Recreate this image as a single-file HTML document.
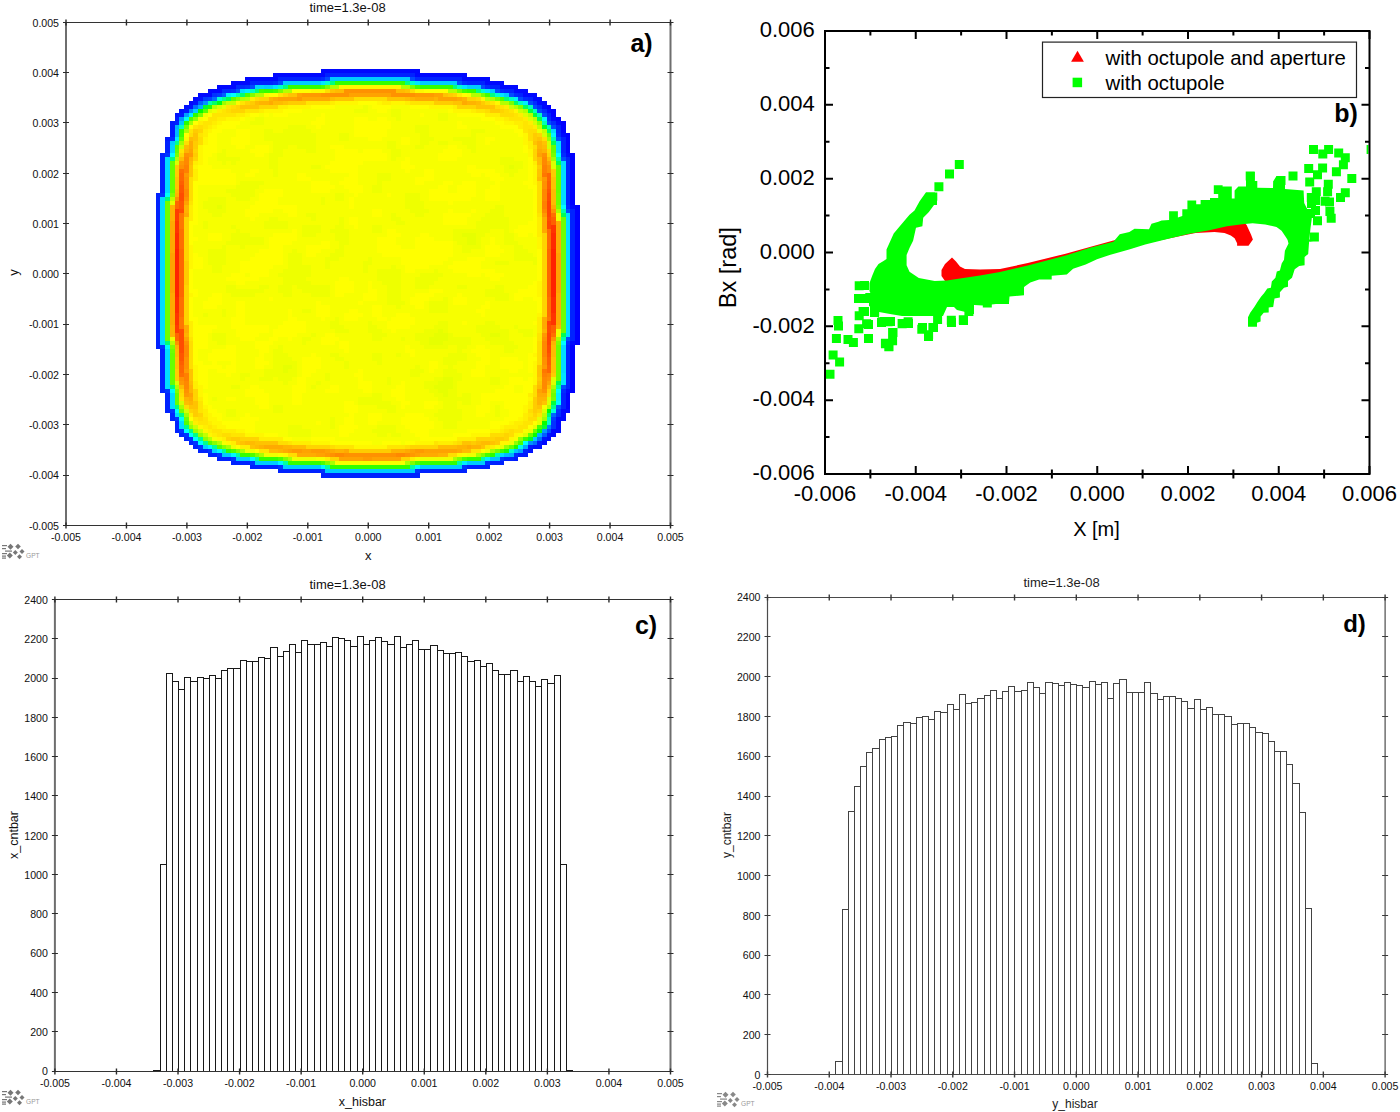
<!DOCTYPE html><html><head><meta charset="utf-8"><style>html,body{margin:0;padding:0;background:#fff}svg{display:block}</style></head><body><svg width="1400" height="1112" viewBox="0 0 1400 1112" font-family="'Liberation Sans', sans-serif">
<rect width="1400" height="1112" fill="#fff"/>
<g shape-rendering="crispEdges"><path fill="#0008ff" d="M321 69h99v4h-99zM273 73h52v4h-52zM415 73h52v4h-52zM245 77h33v4h-33zM462 77h28v4h-28zM231 81h19v4h-19zM485 81h19v4h-19zM217 85h19v4h-19zM500 85h18v4h-18zM208 89h14v4h-14zM514 89h14v4h-14zM198 93h14v4h-14zM523 93h14v4h-14zM193 97h5v4h-5zM533 97h9v4h-9zM189 101h4v4h-4zM537 101h10v4h-10zM542 105h5v4h-5zM547 109h4v4h-4zM551 117h5v4h-5zM556 121h5v4h-5zM561 133h5v4h-5zM566 153h4v4h-4zM570 205h5v4h-5zM570 341h5v4h-5zM566 389h4v4h-4zM561 409h9v4h-9zM561 413h5v4h-5zM556 417h10v4h-10zM556 421h5v4h-5zM556 425h5v4h-5zM551 429h10v4h-10zM551 433h5v4h-5zM547 437h4v4h-4zM542 441h5v4h-5z"/><path fill="#0022ff" d="M325 73h90v4h-90zM278 77h43v4h-43zM420 77h42v4h-42zM250 81h23v4h-23zM467 81h18v4h-18zM490 85h10v4h-10zM504 89h10v4h-10zM518 93h5v4h-5zM528 97h5v4h-5zM547 113h4v4h-4zM175 121h4v4h-4zM556 125h5v4h-5zM556 129h5v4h-5zM561 137h5v4h-5zM165 141h5v4h-5zM561 141h5v4h-5zM165 145h5v4h-5zM561 145h5v4h-5zM165 149h5v4h-5zM561 149h5v4h-5zM160 153h5v4h-5zM160 157h5v4h-5zM566 157h4v4h-4zM160 161h5v4h-5zM566 161h4v4h-4zM160 165h5v4h-5zM566 165h4v4h-4zM160 169h5v4h-5zM566 169h4v4h-4zM160 173h5v4h-5zM566 173h4v4h-4zM160 177h5v4h-5zM566 177h4v4h-4zM160 181h5v4h-5zM566 181h4v4h-4zM160 185h5v4h-5zM566 185h4v4h-4zM160 189h5v4h-5zM566 189h4v4h-4zM156 193h4v4h-4zM566 193h4v4h-4zM156 197h4v4h-4zM566 197h4v4h-4zM156 201h4v4h-4zM566 201h4v4h-4zM156 205h4v4h-4zM156 209h4v4h-4zM570 209h5v4h-5zM156 213h4v4h-4zM570 213h5v4h-5zM156 217h4v4h-4zM570 217h5v4h-5zM156 221h4v4h-4zM570 221h5v4h-5zM156 225h4v4h-4zM570 225h5v4h-5zM156 229h4v4h-4zM570 229h5v4h-5zM156 233h4v4h-4zM570 233h5v4h-5zM156 237h4v4h-4zM570 237h5v4h-5zM156 241h4v4h-4zM570 241h5v4h-5zM156 245h4v4h-4zM570 245h5v4h-5zM156 249h4v4h-4zM570 249h5v4h-5zM156 253h4v4h-4zM570 253h5v4h-5zM156 257h4v4h-4zM570 257h5v4h-5zM156 261h4v4h-4zM570 261h5v4h-5zM156 265h4v4h-4zM570 265h5v4h-5zM156 269h4v4h-4zM570 269h5v4h-5zM156 273h4v4h-4zM570 273h5v4h-5zM156 277h4v4h-4zM570 277h5v4h-5zM156 281h4v4h-4zM570 281h5v4h-5zM156 285h4v4h-4zM570 285h5v4h-5zM156 289h4v4h-4zM570 289h5v4h-5zM156 293h4v4h-4zM570 293h5v4h-5zM156 297h4v4h-4zM570 297h5v4h-5zM156 301h4v4h-4zM570 301h5v4h-5zM156 305h4v4h-4zM570 305h5v4h-5zM156 309h4v4h-4zM570 309h5v4h-5zM156 313h4v4h-4zM570 313h5v4h-5zM156 317h4v4h-4zM570 317h5v4h-5zM156 321h4v4h-4zM570 321h5v4h-5zM156 325h4v4h-4zM570 325h5v4h-5zM156 329h4v4h-4zM570 329h5v4h-5zM156 333h4v4h-4zM570 333h5v4h-5zM156 337h4v4h-4zM570 337h5v4h-5zM156 341h4v4h-4zM156 345h4v4h-4zM566 345h4v4h-4zM160 349h5v4h-5zM566 349h4v4h-4zM160 353h5v4h-5zM566 353h4v4h-4zM160 357h5v4h-5zM566 357h4v4h-4zM160 361h5v4h-5zM566 361h4v4h-4zM160 365h5v4h-5zM566 365h4v4h-4zM160 369h5v4h-5zM566 369h4v4h-4zM160 373h5v4h-5zM566 373h4v4h-4zM160 377h5v4h-5zM566 377h4v4h-4zM160 381h5v4h-5zM566 381h4v4h-4zM160 385h5v4h-5zM566 385h4v4h-4zM160 389h5v4h-5zM165 393h5v4h-5zM561 393h5v4h-5zM165 397h5v4h-5zM561 397h5v4h-5zM165 401h5v4h-5zM561 401h5v4h-5zM165 405h5v4h-5zM561 405h5v4h-5zM165 409h5v4h-5zM170 413h5v4h-5zM170 417h5v4h-5zM175 421h4v4h-4zM175 425h4v4h-4zM175 429h4v4h-4zM179 433h5v4h-5zM184 437h5v4h-5zM189 441h4v4h-4zM193 445h5v4h-5zM198 449h10v4h-10zM523 449h5v4h-5zM208 453h9v4h-9zM217 457h14v4h-14zM504 457h10v4h-10zM231 461h19v4h-19zM490 461h14v4h-14zM250 465h28v4h-28zM467 465h23v4h-23zM278 469h43v4h-43zM420 469h47v4h-47zM321 473h99v5h-99z"/><path fill="#002bff" d="M321 77h4v4h-4zM415 77h5v4h-5zM273 81h5v4h-5zM462 81h5v4h-5zM236 85h9v4h-9zM485 85h5v4h-5zM222 89h9v4h-9zM500 89h4v4h-4zM514 93h4v4h-4zM523 97h5v4h-5zM533 101h4v4h-4zM537 105h5v4h-5zM542 109h5v4h-5zM547 117h4v4h-4zM551 121h5v4h-5zM556 133h5v4h-5zM170 137h5v4h-5zM561 153h5v4h-5zM566 205h4v4h-4zM566 341h4v4h-4zM561 389h5v4h-5zM556 413h5v4h-5zM514 453h4v4h-4z"/><path fill="#004cff" d="M325 77h5v4h-5zM410 77h5v4h-5zM278 81h5v4h-5zM457 81h5v4h-5zM250 85h5v4h-5zM481 85h4v4h-4zM495 89h5v4h-5zM509 93h5v4h-5zM518 97h5v4h-5zM528 101h5v4h-5zM533 105h4v4h-4zM537 109h5v4h-5zM542 113h5v4h-5zM547 121h4v4h-4zM551 125h5v4h-5zM556 137h5v4h-5zM561 157h5v4h-5zM566 209h4v4h-4zM566 337h4v4h-4zM561 385h5v4h-5zM547 429h4v4h-4z"/><path fill="#00ccff" d="M330 77h80v4h-80zM283 81h38v4h-38zM420 81h37v4h-37zM264 85h9v4h-9zM467 85h14v4h-14zM490 89h5v4h-5zM504 93h5v4h-5zM193 109h5v4h-5zM170 141h5v4h-5zM533 437h4v4h-4zM222 453h9v4h-9zM236 457h14v4h-14zM255 461h23v4h-23zM467 461h18v4h-18zM283 465h38v4h-38zM420 465h42v4h-42zM325 469h90v4h-90z"/><path fill="#00e5ff" d="M321 81h4v4h-4zM415 81h5v4h-5zM273 85h5v4h-5zM462 85h5v4h-5zM485 89h5v4h-5zM500 93h4v4h-4zM561 373h5v4h-5zM561 377h5v4h-5zM561 381h5v4h-5z"/><path fill="#00ffcc" d="M325 81h5v4h-5zM410 81h5v4h-5zM278 85h5v4h-5zM457 85h5v4h-5zM481 89h4v4h-4zM495 93h5v4h-5zM547 421h4v4h-4zM509 449h5v4h-5z"/><path fill="#00ff80" d="M330 81h5v4h-5zM405 81h5v4h-5zM283 85h5v4h-5zM453 85h4v4h-4zM476 89h5v4h-5zM490 93h5v4h-5zM170 157h5v4h-5zM175 405h4v4h-4zM179 413h5v4h-5z"/><path fill="#33ff00" d="M335 81h70v4h-70zM288 85h33v4h-33zM420 85h33v4h-33zM264 89h9v4h-9zM467 89h9v4h-9zM179 129h5v4h-5zM226 449h5v4h-5zM240 453h10v4h-10zM259 457h19v4h-19zM467 457h14v4h-14zM288 461h33v4h-33zM420 461h37v4h-37zM330 465h80v4h-80z"/><path fill="#0033ff" d="M245 85h5v4h-5zM231 89h5v4h-5zM212 93h5v4h-5zM165 153h5v4h-5zM160 193h5v4h-5zM160 345h5v4h-5zM165 389h5v4h-5zM170 409h5v4h-5zM556 409h5v4h-5zM175 417h4v4h-4zM551 421h5v4h-5zM551 425h5v4h-5zM179 429h5v4h-5zM184 433h5v4h-5zM189 437h4v4h-4zM193 441h5v4h-5zM198 445h5v4h-5zM208 449h4v4h-4zM217 453h5v4h-5zM231 457h5v4h-5zM500 457h4v4h-4zM250 461h5v4h-5zM485 461h5v4h-5zM278 465h5v4h-5zM462 465h5v4h-5zM321 469h4v4h-4zM415 469h5v4h-5z"/><path fill="#00d4ff" d="M255 85h9v4h-9zM170 145h5v4h-5zM170 149h5v4h-5zM203 445h5v4h-5zM212 449h5v4h-5z"/><path fill="#44ff00" d="M321 85h4v4h-4zM415 85h5v4h-5zM273 89h5v4h-5zM462 89h5v4h-5zM485 93h5v4h-5zM485 453h5v4h-5z"/><path fill="#77ff00" d="M325 85h5v4h-5zM410 85h5v4h-5zM278 89h5v4h-5zM457 89h5v4h-5zM481 93h4v4h-4zM495 97h5v4h-5zM509 101h5v4h-5zM198 113h5v4h-5zM184 125h5v4h-5zM175 153h4v4h-4zM551 153h5v4h-5zM551 397h5v4h-5zM179 409h5v4h-5zM495 449h5v4h-5z"/><path fill="#b3ff00" d="M330 85h9v4h-9zM401 85h9v4h-9zM283 89h9v4h-9zM448 89h9v4h-9zM255 93h9v4h-9zM471 93h10v4h-10zM240 97h5v4h-5zM500 101h9v4h-9zM212 105h5v4h-5zM514 105h4v4h-4zM523 109h5v4h-5zM175 157h4v4h-4zM175 385h4v4h-4zM547 405h4v4h-4zM217 441h5v4h-5z"/><path fill="#fff700" d="M339 85h62v4h-62zM311 89h14v4h-14zM415 89h9v4h-9zM481 97h4v4h-4zM236 101h4v4h-4zM335 101h23v4h-23zM377 101h5v4h-5zM391 101h14v4h-14zM495 101h5v4h-5zM288 105h23v4h-23zM429 105h24v4h-24zM264 109h19v4h-19zM453 109h18v4h-18zM514 109h4v4h-4zM245 113h5v4h-5zM226 117h14v4h-14zM495 117h9v4h-9zM217 121h5v4h-5zM504 121h10v4h-10zM212 125h5v4h-5zM208 129h4v4h-4zM523 133h5v4h-5zM184 137h5v4h-5zM203 137h5v4h-5zM523 137h5v4h-5zM203 141h5v4h-5zM523 141h5v4h-5zM198 145h5v4h-5zM198 149h5v4h-5zM528 149h5v4h-5zM198 153h5v4h-5zM528 153h5v4h-5zM198 157h5v4h-5zM198 161h5v4h-5zM193 165h5v4h-5zM533 165h4v4h-4zM533 169h4v4h-4zM533 173h4v4h-4zM533 177h4v4h-4zM533 181h4v4h-4zM537 237h5v4h-5zM537 241h5v4h-5zM189 245h4v4h-4zM537 245h5v4h-5zM189 249h4v4h-4zM189 253h4v4h-4zM189 257h4v4h-4zM189 261h4v4h-4zM189 265h4v4h-4zM537 281h5v4h-5zM537 285h5v4h-5zM537 289h5v4h-5zM189 293h4v4h-4zM537 293h5v4h-5zM537 313h5v4h-5zM533 353h4v4h-4zM533 361h4v4h-4zM193 365h5v4h-5zM533 365h4v4h-4zM193 369h5v4h-5zM533 369h4v4h-4zM193 373h5v4h-5zM533 373h4v4h-4zM193 377h5v4h-5zM533 377h4v4h-4zM533 381h4v4h-4zM198 385h5v4h-5zM198 389h5v4h-5zM198 393h5v4h-5zM528 397h5v4h-5zM203 405h5v4h-5zM523 405h5v4h-5zM523 409h5v4h-5zM208 413h4v4h-4zM208 417h9v4h-9zM518 417h5v4h-5zM212 421h10v4h-10zM509 421h5v4h-5zM198 425h5v4h-5zM217 425h9v4h-9zM500 425h4v4h-4zM203 429h5v4h-5zM236 429h9v4h-9zM490 429h10v4h-10zM208 433h4v4h-4zM245 433h19v4h-19zM471 433h19v4h-19zM514 433h4v4h-4zM217 437h5v4h-5zM509 437h5v4h-5zM226 441h5v4h-5zM311 441h19v4h-19zM415 441h19v4h-19zM500 441h9v4h-9zM354 445h33v4h-33zM283 453h5v4h-5zM457 453h5v4h-5z"/><path fill="#0055ff" d="M236 89h4v4h-4zM556 405h5v4h-5z"/><path fill="#00ddff" d="M240 89h5v4h-5zM551 129h5v4h-5zM556 141h5v4h-5zM556 145h5v4h-5zM556 149h5v4h-5zM165 157h5v4h-5zM165 161h5v4h-5zM561 161h5v4h-5zM165 165h5v4h-5zM561 165h5v4h-5zM165 169h5v4h-5zM561 169h5v4h-5zM165 173h5v4h-5zM561 173h5v4h-5zM165 177h5v4h-5zM561 177h5v4h-5zM165 181h5v4h-5zM561 181h5v4h-5zM165 185h5v4h-5zM561 185h5v4h-5zM165 189h5v4h-5zM561 189h5v4h-5zM561 193h5v4h-5zM160 197h5v4h-5zM561 197h5v4h-5zM160 201h5v4h-5zM561 201h5v4h-5zM160 205h5v4h-5zM160 209h5v4h-5zM160 213h5v4h-5zM566 213h4v4h-4zM160 217h5v4h-5zM566 217h4v4h-4zM160 221h5v4h-5zM566 221h4v4h-4zM160 225h5v4h-5zM566 225h4v4h-4zM160 229h5v4h-5zM566 229h4v4h-4zM160 233h5v4h-5zM566 233h4v4h-4zM160 237h5v4h-5zM566 237h4v4h-4zM160 241h5v4h-5zM566 241h4v4h-4zM160 245h5v4h-5zM566 245h4v4h-4zM160 249h5v4h-5zM566 249h4v4h-4zM160 253h5v4h-5zM566 253h4v4h-4zM160 257h5v4h-5zM566 257h4v4h-4zM160 261h5v4h-5zM566 261h4v4h-4zM160 265h5v4h-5zM566 265h4v4h-4zM160 269h5v4h-5zM566 269h4v4h-4zM160 273h5v4h-5zM566 273h4v4h-4zM160 277h5v4h-5zM566 277h4v4h-4zM160 281h5v4h-5zM566 281h4v4h-4zM160 285h5v4h-5zM566 285h4v4h-4zM160 289h5v4h-5zM566 289h4v4h-4zM160 293h5v4h-5zM566 293h4v4h-4zM160 297h5v4h-5zM566 297h4v4h-4zM160 301h5v4h-5zM566 301h4v4h-4zM160 305h5v4h-5zM566 305h4v4h-4zM160 309h5v4h-5zM566 309h4v4h-4zM160 313h5v4h-5zM566 313h4v4h-4zM160 317h5v4h-5zM566 317h4v4h-4zM160 321h5v4h-5zM566 321h4v4h-4zM160 325h5v4h-5zM566 325h4v4h-4zM160 329h5v4h-5zM566 329h4v4h-4zM160 333h5v4h-5zM566 333h4v4h-4zM160 337h5v4h-5zM160 341h5v4h-5zM561 345h5v4h-5zM165 349h5v4h-5zM561 349h5v4h-5zM165 353h5v4h-5zM561 353h5v4h-5zM165 357h5v4h-5zM561 357h5v4h-5zM165 361h5v4h-5zM561 361h5v4h-5zM165 365h5v4h-5zM561 365h5v4h-5zM165 369h5v4h-5zM561 369h5v4h-5zM165 373h5v4h-5zM165 377h5v4h-5zM165 381h5v4h-5zM165 385h5v4h-5zM170 393h5v4h-5zM170 397h5v4h-5zM170 401h5v4h-5zM170 405h5v4h-5zM175 413h4v4h-4zM179 421h5v4h-5zM179 425h5v4h-5zM500 453h4v4h-4z"/><path fill="#00eeff" d="M245 89h5v4h-5zM226 93h5v4h-5zM514 97h4v4h-4zM523 101h5v4h-5zM189 113h4v4h-4zM175 137h4v4h-4zM556 393h5v4h-5zM556 397h5v4h-5zM485 457h5v4h-5zM462 461h5v4h-5z"/><path fill="#00ffc3" d="M250 89h5v4h-5zM509 97h5v4h-5zM518 101h5v4h-5zM179 125h5v4h-5z"/><path fill="#00ff77" d="M255 89h4v4h-4zM504 97h5v4h-5zM165 197h5v4h-5zM165 341h5v4h-5zM170 385h5v4h-5z"/><path fill="#3cff00" d="M259 89h5v4h-5zM179 133h5v4h-5zM523 437h5v4h-5zM500 449h4v4h-4z"/><path fill="#ffff00" d="M292 89h19v4h-19zM424 89h24v4h-24zM269 93h9v4h-9zM462 93h5v4h-5zM358 101h19v4h-19zM311 105h24v4h-24zM372 105h19v4h-19zM410 105h19v4h-19zM283 109h19v4h-19zM377 109h10v4h-10zM448 109h5v4h-5zM208 113h4v4h-4zM250 113h9v4h-9zM264 113h5v4h-5zM273 113h15v4h-15zM321 113h4v4h-4zM420 113h4v4h-4zM457 113h28v4h-28zM203 117h5v4h-5zM240 117h5v4h-5zM316 117h9v4h-9zM354 117h14v4h-14zM377 117h10v4h-10zM481 117h14v4h-14zM193 121h5v4h-5zM222 121h18v4h-18zM311 121h14v4h-14zM354 121h37v4h-37zM457 121h5v4h-5zM495 121h9v4h-9zM189 125h4v4h-4zM217 125h19v4h-19zM316 125h5v4h-5zM354 125h37v4h-37zM457 125h10v4h-10zM500 125h18v4h-18zM212 129h10v4h-10zM236 129h14v4h-14zM354 129h33v4h-33zM514 129h9v4h-9zM184 133h5v4h-5zM208 133h9v4h-9zM236 133h14v4h-14zM354 133h33v4h-33zM518 133h5v4h-5zM208 137h9v4h-9zM231 137h19v4h-19zM368 137h14v4h-14zM401 137h9v4h-9zM485 137h10v4h-10zM208 141h9v4h-9zM231 141h19v4h-19zM401 141h9v4h-9zM485 141h5v4h-5zM203 145h14v4h-14zM236 145h9v4h-9zM255 145h14v4h-14zM330 145h14v4h-14zM448 145h9v4h-9zM523 145h5v4h-5zM203 149h14v4h-14zM250 149h19v4h-19zM335 149h23v4h-23zM363 149h19v4h-19zM443 149h19v4h-19zM523 149h5v4h-5zM203 153h9v4h-9zM255 153h9v4h-9zM335 153h52v4h-52zM438 153h24v4h-24zM203 157h5v4h-5zM335 157h52v4h-52zM405 157h5v4h-5zM438 157h19v4h-19zM528 157h5v4h-5zM203 161h5v4h-5zM330 161h33v4h-33zM401 161h9v4h-9zM528 161h5v4h-5zM198 165h14v4h-14zM325 165h33v4h-33zM401 165h14v4h-14zM467 165h9v4h-9zM528 165h5v4h-5zM198 169h33v4h-33zM250 169h9v4h-9zM330 169h28v4h-28zM405 169h5v4h-5zM424 169h10v4h-10zM467 169h28v4h-28zM528 169h5v4h-5zM198 173h38v4h-38zM245 173h10v4h-10zM297 173h9v4h-9zM349 173h9v4h-9zM424 173h10v4h-10zM471 173h10v4h-10zM485 173h15v4h-15zM528 173h5v4h-5zM198 177h38v4h-38zM297 177h14v4h-14zM344 177h14v4h-14zM415 177h19v4h-19zM490 177h14v4h-14zM528 177h5v4h-5zM193 181h43v4h-43zM311 181h19v4h-19zM339 181h19v4h-19zM415 181h9v4h-9zM443 181h10v4h-10zM462 181h14v4h-14zM495 181h5v4h-5zM523 181h10v4h-10zM193 185h5v4h-5zM311 185h24v4h-24zM344 185h19v4h-19zM438 185h10v4h-10zM457 185h19v4h-19zM490 185h10v4h-10zM528 185h9v4h-9zM193 189h5v4h-5zM264 189h19v4h-19zM311 189h19v4h-19zM349 189h14v4h-14zM429 189h19v4h-19zM457 189h19v4h-19zM485 189h15v4h-15zM533 189h4v4h-4zM193 193h5v4h-5zM259 193h24v4h-24zM354 193h4v4h-4zM387 193h4v4h-4zM429 193h47v4h-47zM485 193h15v4h-15zM533 193h4v4h-4zM193 197h5v4h-5zM259 197h19v4h-19zM349 197h5v4h-5zM429 197h42v4h-42zM485 197h15v4h-15zM533 197h4v4h-4zM193 201h5v4h-5zM255 201h23v4h-23zM349 201h5v4h-5zM448 201h5v4h-5zM533 201h4v4h-4zM193 205h5v4h-5zM250 205h47v4h-47zM349 205h5v4h-5zM533 205h4v4h-4zM193 209h5v4h-5zM245 209h28v4h-28zM283 209h14v4h-14zM372 209h10v4h-10zM448 209h5v4h-5zM471 209h5v4h-5zM533 209h4v4h-4zM193 213h5v4h-5zM245 213h14v4h-14zM288 213h9v4h-9zM372 213h10v4h-10zM443 213h28v4h-28zM533 213h4v4h-4zM193 217h5v4h-5zM250 217h5v4h-5zM349 217h9v4h-9zM443 217h24v4h-24zM533 217h4v4h-4zM189 221h9v4h-9zM349 221h9v4h-9zM443 221h24v4h-24zM528 221h9v4h-9zM189 225h4v4h-4zM354 225h4v4h-4zM518 225h19v4h-19zM189 229h4v4h-4zM292 229h5v4h-5zM387 229h9v4h-9zM514 229h23v4h-23zM189 233h4v4h-4zM208 233h14v4h-14zM273 233h24v4h-24zM387 233h14v4h-14zM420 233h9v4h-9zM518 233h10v4h-10zM533 233h4v4h-4zM189 237h9v4h-9zM208 237h14v4h-14zM269 237h28v4h-28zM377 237h19v4h-19zM415 237h19v4h-19zM490 237h5v4h-5zM189 241h4v4h-4zM269 241h23v4h-23zM321 241h9v4h-9zM377 241h19v4h-19zM415 241h38v4h-38zM490 241h5v4h-5zM269 245h14v4h-14zM306 245h24v4h-24zM377 245h24v4h-24zM415 245h38v4h-38zM485 245h15v4h-15zM259 249h24v4h-24zM306 249h15v4h-15zM377 249h76v4h-76zM485 249h19v4h-19zM537 249h5v4h-5zM193 253h5v4h-5zM255 253h28v4h-28zM306 253h10v4h-10zM382 253h71v4h-71zM485 253h15v4h-15zM537 253h5v4h-5zM193 257h10v4h-10zM250 257h33v4h-33zM401 257h47v4h-47zM467 257h18v4h-18zM537 257h5v4h-5zM193 261h10v4h-10zM240 261h43v4h-43zM401 261h42v4h-42zM453 261h28v4h-28zM537 261h5v4h-5zM193 265h10v4h-10zM240 265h33v4h-33zM405 265h24v4h-24zM448 265h33v4h-33zM537 265h5v4h-5zM189 269h4v4h-4zM240 269h29v4h-29zM405 269h10v4h-10zM453 269h42v4h-42zM537 269h5v4h-5zM189 273h4v4h-4zM231 273h14v4h-14zM250 273h19v4h-19zM467 273h14v4h-14zM485 273h19v4h-19zM537 273h5v4h-5zM189 277h4v4h-4zM226 277h33v4h-33zM339 277h10v4h-10zM490 277h10v4h-10zM537 277h5v4h-5zM189 281h4v4h-4zM236 281h9v4h-9zM335 281h19v4h-19zM368 281h4v4h-4zM533 281h4v4h-4zM189 285h4v4h-4zM335 285h19v4h-19zM368 285h4v4h-4zM528 285h9v4h-9zM189 289h9v4h-9zM335 289h19v4h-19zM368 289h9v4h-9zM429 289h14v4h-14zM518 289h19v4h-19zM193 293h5v4h-5zM212 293h10v4h-10zM335 293h9v4h-9zM363 293h14v4h-14zM415 293h19v4h-19zM457 293h5v4h-5zM514 293h23v4h-23zM189 297h4v4h-4zM208 297h14v4h-14zM269 297h4v4h-4zM363 297h14v4h-14zM410 297h19v4h-19zM453 297h14v4h-14zM514 297h9v4h-9zM533 297h9v4h-9zM189 301h4v4h-4zM203 301h19v4h-19zM236 301h9v4h-9zM316 301h5v4h-5zM358 301h5v4h-5zM410 301h14v4h-14zM453 301h14v4h-14zM485 301h5v4h-5zM537 301h5v4h-5zM189 305h4v4h-4zM203 305h14v4h-14zM236 305h9v4h-9zM316 305h14v4h-14zM372 305h10v4h-10zM415 305h9v4h-9zM481 305h9v4h-9zM537 305h5v4h-5zM189 309h4v4h-4zM236 309h9v4h-9zM288 309h4v4h-4zM316 309h14v4h-14zM349 309h9v4h-9zM372 309h10v4h-10zM476 309h9v4h-9zM537 309h5v4h-5zM189 313h4v4h-4zM236 313h9v4h-9zM288 313h4v4h-4zM316 313h14v4h-14zM344 313h19v4h-19zM372 313h10v4h-10zM396 313h14v4h-14zM481 313h4v4h-4zM189 317h9v4h-9zM231 317h14v4h-14zM288 317h9v4h-9zM321 317h4v4h-4zM344 317h14v4h-14zM377 317h10v4h-10zM391 317h24v4h-24zM193 321h5v4h-5zM231 321h14v4h-14zM283 321h23v4h-23zM387 321h28v4h-28zM462 321h5v4h-5zM533 321h4v4h-4zM193 325h24v4h-24zM231 325h38v4h-38zM278 325h28v4h-28zM387 325h23v4h-23zM193 329h19v4h-19zM236 329h33v4h-33zM273 329h33v4h-33zM391 329h5v4h-5zM193 333h15v4h-15zM236 333h23v4h-23zM273 333h24v4h-24zM325 333h10v4h-10zM193 337h15v4h-15zM240 337h15v4h-15zM269 337h9v4h-9zM288 337h4v4h-4zM321 337h18v4h-18zM533 337h4v4h-4zM193 341h15v4h-15zM255 341h18v4h-18zM321 341h14v4h-14zM339 341h10v4h-10zM533 341h4v4h-4zM193 345h15v4h-15zM226 345h10v4h-10zM255 345h14v4h-14zM339 345h10v4h-10zM405 345h5v4h-5zM476 345h9v4h-9zM533 345h4v4h-4zM193 349h5v4h-5zM212 349h24v4h-24zM259 349h10v4h-10zM344 349h5v4h-5zM405 349h10v4h-10zM471 349h19v4h-19zM533 349h4v4h-4zM193 353h5v4h-5zM208 353h28v4h-28zM259 353h5v4h-5zM311 353h5v4h-5zM410 353h5v4h-5zM476 353h14v4h-14zM528 353h5v4h-5zM193 357h5v4h-5zM208 357h28v4h-28zM255 357h9v4h-9zM302 357h19v4h-19zM481 357h9v4h-9zM500 357h18v4h-18zM528 357h9v4h-9zM193 361h10v4h-10zM212 361h5v4h-5zM231 361h5v4h-5zM255 361h14v4h-14zM302 361h19v4h-19zM429 361h9v4h-9zM476 361h14v4h-14zM500 361h23v4h-23zM528 361h5v4h-5zM198 365h24v4h-24zM226 365h10v4h-10zM255 365h9v4h-9zM302 365h19v4h-19zM429 365h9v4h-9zM476 365h9v4h-9zM500 365h23v4h-23zM528 365h5v4h-5zM198 369h10v4h-10zM217 369h19v4h-19zM302 369h14v4h-14zM358 369h5v4h-5zM429 369h5v4h-5zM471 369h14v4h-14zM509 369h9v4h-9zM528 369h5v4h-5zM198 373h10v4h-10zM226 373h5v4h-5zM302 373h9v4h-9zM354 373h9v4h-9zM471 373h14v4h-14zM198 377h10v4h-10zM297 377h9v4h-9zM358 377h5v4h-5zM509 377h14v4h-14zM528 377h5v4h-5zM198 381h10v4h-10zM297 381h9v4h-9zM358 381h14v4h-14zM401 381h4v4h-4zM509 381h24v4h-24zM203 385h5v4h-5zM250 385h9v4h-9zM292 385h14v4h-14zM330 385h9v4h-9zM358 385h14v4h-14zM396 385h9v4h-9zM504 385h10v4h-10zM523 385h10v4h-10zM245 389h19v4h-19zM292 389h14v4h-14zM325 389h14v4h-14zM363 389h9v4h-9zM391 389h14v4h-14zM495 389h19v4h-19zM523 389h10v4h-10zM203 393h5v4h-5zM245 393h24v4h-24zM292 393h10v4h-10zM391 393h14v4h-14zM481 393h47v4h-47zM203 397h5v4h-5zM226 397h10v4h-10zM255 397h14v4h-14zM292 397h10v4h-10zM396 397h9v4h-9zM481 397h47v4h-47zM203 401h5v4h-5zM255 401h14v4h-14zM292 401h10v4h-10zM344 401h10v4h-10zM401 401h9v4h-9zM424 401h14v4h-14zM481 401h9v4h-9zM504 401h24v4h-24zM208 405h4v4h-4zM259 405h10v4h-10zM344 405h14v4h-14zM401 405h4v4h-4zM424 405h10v4h-10zM476 405h14v4h-14zM504 405h19v4h-19zM208 409h9v4h-9zM344 409h14v4h-14zM476 409h14v4h-14zM509 409h14v4h-14zM212 413h10v4h-10zM245 413h5v4h-5zM349 413h5v4h-5zM368 413h14v4h-14zM405 413h19v4h-19zM476 413h9v4h-9zM509 413h14v4h-14zM189 417h4v4h-4zM217 417h5v4h-5zM240 417h19v4h-19zM344 417h10v4h-10zM368 417h14v4h-14zM401 417h28v4h-28zM504 417h14v4h-14zM222 421h33v4h-33zM316 421h5v4h-5zM344 421h10v4h-10zM368 421h9v4h-9zM401 421h33v4h-33zM490 421h19v4h-19zM533 421h4v4h-4zM226 425h29v4h-29zM339 425h19v4h-19zM405 425h29v4h-29zM490 425h10v4h-10zM528 425h5v4h-5zM245 429h10v4h-10zM339 429h15v4h-15zM410 429h19v4h-19zM467 429h23v4h-23zM264 433h14v4h-14zM339 433h10v4h-10zM415 433h14v4h-14zM453 433h18v4h-18zM283 437h9v4h-9zM311 437h24v4h-24zM420 437h37v4h-37zM330 441h42v4h-42zM382 441h19v4h-19zM405 441h10v4h-10zM236 445h4v4h-4zM255 449h4v4h-4zM481 449h4v4h-4z"/><path fill="#ffdd00" d="M325 89h5v4h-5zM410 89h5v4h-5zM255 97h4v4h-4zM354 97h33v4h-33zM476 97h5v4h-5zM485 101h5v4h-5zM231 105h5v4h-5zM495 105h5v4h-5zM226 109h5v4h-5zM485 109h5v4h-5zM504 109h5v4h-5zM500 113h14v4h-14zM198 125h5v4h-5zM528 129h9v4h-9zM189 133h4v4h-4zM528 133h5v4h-5zM198 137h5v4h-5zM528 137h5v4h-5zM542 137h5v4h-5zM184 141h5v4h-5zM198 141h5v4h-5zM533 145h4v4h-4zM547 149h4v4h-4zM189 177h4v4h-4zM189 181h4v4h-4zM537 181h5v4h-5zM189 185h4v4h-4zM537 185h5v4h-5zM189 189h4v4h-4zM537 189h5v4h-5zM189 193h4v4h-4zM537 193h5v4h-5zM189 197h4v4h-4zM537 197h5v4h-5zM537 201h5v4h-5zM537 205h5v4h-5zM537 209h5v4h-5zM189 341h4v4h-4zM537 341h5v4h-5zM189 345h4v4h-4zM537 345h5v4h-5zM189 349h4v4h-4zM537 349h5v4h-5zM189 353h4v4h-4zM537 353h5v4h-5zM189 357h4v4h-4zM537 357h5v4h-5zM189 361h4v4h-4zM537 361h5v4h-5zM189 365h4v4h-4zM533 385h4v4h-4zM533 389h4v4h-4zM179 393h5v4h-5zM533 393h4v4h-4zM547 393h4v4h-4zM184 405h5v4h-5zM528 409h5v4h-5zM198 417h5v4h-5zM528 417h9v4h-9zM509 429h5v4h-5zM222 433h9v4h-9zM490 433h14v4h-14zM509 433h5v4h-5zM278 441h10v4h-10zM457 441h5v4h-5zM330 445h5v4h-5zM405 445h5v4h-5zM288 453h9v4h-9zM448 453h9v4h-9z"/><path fill="#ffc300" d="M330 89h5v4h-5zM405 89h5v4h-5zM288 93h9v4h-9zM443 93h5v4h-5zM335 97h19v4h-19zM387 97h18v4h-18zM283 101h5v4h-5zM453 101h9v4h-9zM240 105h19v4h-19zM476 105h19v4h-19zM193 133h5v4h-5zM193 137h5v4h-5zM537 137h5v4h-5zM533 141h4v4h-4zM542 141h5v4h-5zM189 165h4v4h-4zM189 169h4v4h-4zM537 169h5v4h-5zM189 173h4v4h-4zM537 173h5v4h-5zM175 177h4v4h-4zM551 177h5v4h-5zM175 181h4v4h-4zM551 181h5v4h-5zM175 185h4v4h-4zM551 185h5v4h-5zM175 357h4v4h-4zM551 357h5v4h-5zM175 361h4v4h-4zM551 361h5v4h-5zM175 365h4v4h-4zM537 365h5v4h-5zM551 365h5v4h-5zM189 369h4v4h-4zM537 369h5v4h-5zM551 369h5v4h-5zM189 373h4v4h-4zM537 373h5v4h-5zM189 377h4v4h-4zM537 381h5v4h-5zM193 401h5v4h-5zM542 401h5v4h-5zM189 405h9v4h-9zM537 405h5v4h-5zM240 441h5v4h-5zM255 441h23v4h-23zM462 441h9v4h-9zM476 441h5v4h-5zM490 441h5v4h-5zM250 445h5v4h-5zM481 445h4v4h-4z"/><path fill="#ffbb00" d="M335 89h9v4h-9zM396 89h9v4h-9zM330 97h5v4h-5zM405 97h5v4h-5zM255 101h4v4h-4zM273 101h10v4h-10zM476 101h5v4h-5zM189 137h4v4h-4zM184 145h5v4h-5zM542 145h5v4h-5zM179 157h5v4h-5zM537 157h5v4h-5zM547 157h4v4h-4zM189 161h4v4h-4zM537 161h5v4h-5zM537 177h5v4h-5zM175 189h4v4h-4zM551 189h5v4h-5zM551 193h5v4h-5zM551 197h5v4h-5zM551 201h5v4h-5zM551 345h5v4h-5zM175 349h4v4h-4zM551 349h5v4h-5zM175 353h4v4h-4zM551 353h5v4h-5zM189 381h4v4h-4zM179 385h5v4h-5zM537 385h5v4h-5zM547 385h4v4h-4zM184 401h5v4h-5zM245 441h10v4h-10zM481 441h9v4h-9zM255 445h4v4h-4zM292 445h14v4h-14zM438 445h19v4h-19zM269 449h9v4h-9zM462 449h9v4h-9z"/><path fill="#ff9100" d="M344 89h52v4h-52zM321 93h28v4h-28zM391 93h24v4h-24zM184 153h5v4h-5zM542 153h5v4h-5zM179 165h5v4h-5zM547 165h4v4h-4zM547 169h4v4h-4zM184 177h5v4h-5zM184 181h5v4h-5zM542 181h5v4h-5zM184 185h5v4h-5zM542 185h5v4h-5zM175 197h4v4h-4zM184 197h5v4h-5zM551 209h5v4h-5zM542 337h5v4h-5zM551 337h5v4h-5zM175 341h4v4h-4zM184 341h5v4h-5zM184 357h5v4h-5zM542 357h5v4h-5zM184 361h5v4h-5zM542 361h5v4h-5zM184 365h5v4h-5zM179 377h5v4h-5zM547 377h4v4h-4zM184 389h5v4h-5zM542 389h5v4h-5zM330 453h5v4h-5zM344 453h52v4h-52zM405 453h5v4h-5z"/><path fill="#003cff" d="M217 93h5v4h-5zM203 97h5v4h-5zM551 417h5v4h-5z"/><path fill="#005eff" d="M222 93h4v4h-4zM198 101h5v4h-5zM542 433h5v4h-5z"/><path fill="#00ffff" d="M231 93h5v4h-5zM170 153h5v4h-5zM556 153h5v4h-5zM561 205h5v4h-5zM561 341h5v4h-5zM184 429h5v4h-5zM189 433h4v4h-4zM193 437h5v4h-5zM198 441h5v4h-5zM523 441h5v4h-5z"/><path fill="#00ffb3" d="M236 93h4v4h-4zM542 121h5v4h-5zM547 125h4v4h-4zM495 453h5v4h-5z"/><path fill="#00ff6f" d="M240 93h5v4h-5zM547 413h4v4h-4z"/><path fill="#4cff00" d="M245 93h5v4h-5zM500 97h4v4h-4zM189 117h4v4h-4zM537 425h5v4h-5zM518 441h5v4h-5zM231 449h5v4h-5zM250 453h5v4h-5zM278 457h5v4h-5zM462 457h5v4h-5zM321 461h4v4h-4zM415 461h5v4h-5z"/><path fill="#80ff00" d="M250 93h5v4h-5zM518 105h5v4h-5zM170 193h5v4h-5zM556 205h5v4h-5zM556 341h5v4h-5zM170 345h5v4h-5zM175 389h4v4h-4zM551 389h5v4h-5zM236 449h4v4h-4zM255 453h4v4h-4zM481 453h4v4h-4zM283 457h5v4h-5zM457 457h5v4h-5zM325 461h5v4h-5zM410 461h5v4h-5z"/><path fill="#f7ff00" d="M264 93h5v4h-5zM467 93h4v4h-4zM335 105h28v4h-28zM368 105h4v4h-4zM391 105h19v4h-19zM302 109h52v4h-52zM368 109h9v4h-9zM387 109h4v4h-4zM401 109h47v4h-47zM259 113h5v4h-5zM269 113h4v4h-4zM288 113h33v4h-33zM325 113h66v4h-66zM401 113h19v4h-19zM424 113h14v4h-14zM448 113h9v4h-9zM198 117h5v4h-5zM245 117h10v4h-10zM264 117h52v4h-52zM325 117h29v4h-29zM368 117h9v4h-9zM387 117h9v4h-9zM401 117h37v4h-37zM448 117h33v4h-33zM240 121h10v4h-10zM264 121h47v4h-47zM325 121h29v4h-29zM391 121h66v4h-66zM462 121h33v4h-33zM236 125h52v4h-52zM306 125h10v4h-10zM321 125h33v4h-33zM391 125h24v4h-24zM429 125h28v4h-28zM467 125h33v4h-33zM222 129h14v4h-14zM250 129h14v4h-14zM273 129h10v4h-10zM311 129h43v4h-43zM387 129h28v4h-28zM429 129h42v4h-42zM485 129h29v4h-29zM217 133h19v4h-19zM250 133h14v4h-14zM316 133h23v4h-23zM349 133h5v4h-5zM387 133h33v4h-33zM429 133h42v4h-42zM476 133h42v4h-42zM217 137h14v4h-14zM250 137h14v4h-14zM316 137h23v4h-23zM349 137h19v4h-19zM382 137h19v4h-19zM410 137h10v4h-10zM434 137h19v4h-19zM476 137h9v4h-9zM495 137h28v4h-28zM217 141h14v4h-14zM250 141h23v4h-23zM316 141h71v4h-71zM396 141h5v4h-5zM410 141h10v4h-10zM429 141h9v4h-9zM448 141h14v4h-14zM476 141h9v4h-9zM490 141h33v4h-33zM217 145h19v4h-19zM245 145h10v4h-10zM269 145h4v4h-4zM288 145h9v4h-9zM316 145h14v4h-14zM344 145h43v4h-43zM396 145h19v4h-19zM424 145h24v4h-24zM457 145h10v4h-10zM476 145h47v4h-47zM217 149h5v4h-5zM226 149h24v4h-24zM269 149h4v4h-4zM283 149h23v4h-23zM316 149h19v4h-19zM358 149h5v4h-5zM382 149h9v4h-9zM401 149h42v4h-42zM462 149h9v4h-9zM476 149h47v4h-47zM212 153h5v4h-5zM226 153h29v4h-29zM264 153h5v4h-5zM283 153h52v4h-52zM387 153h4v4h-4zM401 153h37v4h-37zM462 153h66v4h-66zM208 157h9v4h-9zM240 157h29v4h-29zM278 157h57v4h-57zM387 157h4v4h-4zM396 157h9v4h-9zM410 157h28v4h-28zM457 157h43v4h-43zM514 157h14v4h-14zM208 161h14v4h-14zM226 161h5v4h-5zM236 161h33v4h-33zM278 161h52v4h-52zM363 161h38v4h-38zM410 161h90v4h-90zM523 161h5v4h-5zM212 165h57v4h-57zM278 165h33v4h-33zM321 165h4v4h-4zM358 165h43v4h-43zM415 165h52v4h-52zM476 165h28v4h-28zM523 165h5v4h-5zM231 169h19v4h-19zM259 169h14v4h-14zM278 169h52v4h-52zM358 169h47v4h-47zM410 169h14v4h-14zM434 169h33v4h-33zM495 169h9v4h-9zM518 169h10v4h-10zM236 173h9v4h-9zM255 173h18v4h-18zM278 173h19v4h-19zM306 173h43v4h-43zM358 173h19v4h-19zM391 173h33v4h-33zM434 173h37v4h-37zM481 173h4v4h-4zM500 173h9v4h-9zM514 173h14v4h-14zM236 177h61v4h-61zM311 177h33v4h-33zM358 177h19v4h-19zM391 177h24v4h-24zM434 177h56v4h-56zM504 177h24v4h-24zM236 181h4v4h-4zM264 181h47v4h-47zM330 181h9v4h-9zM358 181h19v4h-19zM382 181h33v4h-33zM424 181h19v4h-19zM453 181h9v4h-9zM476 181h19v4h-19zM500 181h23v4h-23zM198 185h38v4h-38zM259 185h52v4h-52zM335 185h9v4h-9zM363 185h9v4h-9zM382 185h56v4h-56zM448 185h9v4h-9zM476 185h14v4h-14zM500 185h28v4h-28zM198 189h28v4h-28zM255 189h9v4h-9zM283 189h28v4h-28zM330 189h19v4h-19zM363 189h9v4h-9zM382 189h47v4h-47zM448 189h9v4h-9zM476 189h9v4h-9zM500 189h33v4h-33zM198 193h33v4h-33zM255 193h4v4h-4zM283 193h52v4h-52zM344 193h10v4h-10zM358 193h29v4h-29zM391 193h14v4h-14zM420 193h9v4h-9zM476 193h9v4h-9zM500 193h33v4h-33zM198 197h10v4h-10zM226 197h10v4h-10zM250 197h9v4h-9zM278 197h43v4h-43zM325 197h10v4h-10zM344 197h5v4h-5zM354 197h51v4h-51zM420 197h9v4h-9zM471 197h14v4h-14zM500 197h33v4h-33zM198 201h5v4h-5zM226 201h29v4h-29zM278 201h43v4h-43zM325 201h24v4h-24zM354 201h51v4h-51zM424 201h24v4h-24zM453 201h80v4h-80zM198 205h5v4h-5zM226 205h24v4h-24zM297 205h52v4h-52zM354 205h51v4h-51zM424 205h71v4h-71zM504 205h29v4h-29zM198 209h10v4h-10zM226 209h19v4h-19zM273 209h10v4h-10zM297 209h75v4h-75zM382 209h28v4h-28zM429 209h19v4h-19zM453 209h18v4h-18zM476 209h14v4h-14zM504 209h29v4h-29zM198 213h14v4h-14zM222 213h23v4h-23zM259 213h29v4h-29zM297 213h9v4h-9zM316 213h56v4h-56zM382 213h9v4h-9zM396 213h19v4h-19zM424 213h19v4h-19zM471 213h14v4h-14zM504 213h29v4h-29zM198 217h52v4h-52zM255 217h14v4h-14zM278 217h33v4h-33zM316 217h23v4h-23zM344 217h5v4h-5zM358 217h33v4h-33zM401 217h42v4h-42zM467 217h14v4h-14zM509 217h24v4h-24zM198 221h5v4h-5zM208 221h56v4h-56zM288 221h51v4h-51zM344 221h5v4h-5zM358 221h38v4h-38zM405 221h38v4h-38zM467 221h9v4h-9zM509 221h19v4h-19zM193 225h10v4h-10zM208 225h23v4h-23zM236 225h28v4h-28zM288 225h14v4h-14zM321 225h14v4h-14zM344 225h10v4h-10zM358 225h14v4h-14zM382 225h94v4h-94zM509 225h9v4h-9zM193 229h43v4h-43zM240 229h52v4h-52zM297 229h5v4h-5zM321 229h9v4h-9zM349 229h23v4h-23zM382 229h5v4h-5zM396 229h57v4h-57zM490 229h14v4h-14zM509 229h5v4h-5zM193 233h15v4h-15zM222 233h9v4h-9zM250 233h23v4h-23zM297 233h5v4h-5zM316 233h19v4h-19zM349 233h38v4h-38zM401 233h19v4h-19zM429 233h24v4h-24zM485 233h19v4h-19zM514 233h4v4h-4zM528 233h5v4h-5zM198 237h10v4h-10zM222 237h9v4h-9zM264 237h5v4h-5zM297 237h38v4h-38zM349 237h28v4h-28zM396 237h19v4h-19zM434 237h19v4h-19zM481 237h9v4h-9zM495 237h9v4h-9zM514 237h23v4h-23zM193 241h33v4h-33zM264 241h5v4h-5zM292 241h29v4h-29zM330 241h9v4h-9zM349 241h28v4h-28zM396 241h19v4h-19zM453 241h4v4h-4zM481 241h9v4h-9zM495 241h9v4h-9zM518 241h19v4h-19zM193 245h29v4h-29zM226 245h14v4h-14zM245 245h24v4h-24zM283 245h23v4h-23zM330 245h9v4h-9zM344 245h33v4h-33zM401 245h14v4h-14zM453 245h9v4h-9zM481 245h4v4h-4zM500 245h14v4h-14zM523 245h14v4h-14zM193 249h15v4h-15zM226 249h33v4h-33zM283 249h9v4h-9zM297 249h9v4h-9zM321 249h14v4h-14zM344 249h33v4h-33zM453 249h9v4h-9zM471 249h14v4h-14zM504 249h10v4h-10zM528 249h9v4h-9zM198 253h10v4h-10zM226 253h29v4h-29zM283 253h5v4h-5zM302 253h4v4h-4zM316 253h14v4h-14zM344 253h38v4h-38zM453 253h32v4h-32zM500 253h14v4h-14zM533 253h4v4h-4zM203 257h5v4h-5zM226 257h24v4h-24zM283 257h5v4h-5zM302 257h23v4h-23zM339 257h29v4h-29zM372 257h29v4h-29zM448 257h19v4h-19zM485 257h29v4h-29zM203 261h5v4h-5zM226 261h14v4h-14zM283 261h5v4h-5zM302 261h23v4h-23zM330 261h33v4h-33zM372 261h29v4h-29zM443 261h10v4h-10zM481 261h14v4h-14zM509 261h24v4h-24zM203 265h9v4h-9zM222 265h18v4h-18zM273 265h15v4h-15zM311 265h14v4h-14zM330 265h33v4h-33zM368 265h23v4h-23zM396 265h9v4h-9zM429 265h19v4h-19zM481 265h56v4h-56zM193 269h19v4h-19zM222 269h18v4h-18zM269 269h14v4h-14zM311 269h52v4h-52zM368 269h9v4h-9zM401 269h4v4h-4zM415 269h19v4h-19zM438 269h15v4h-15zM495 269h42v4h-42zM193 273h38v4h-38zM245 273h5v4h-5zM269 273h9v4h-9zM311 273h66v4h-66zM401 273h19v4h-19zM443 273h24v4h-24zM481 273h4v4h-4zM504 273h33v4h-33zM193 277h33v4h-33zM259 277h24v4h-24zM306 277h33v4h-33zM349 277h28v4h-28zM401 277h14v4h-14zM438 277h52v4h-52zM500 277h37v4h-37zM193 281h43v4h-43zM245 281h38v4h-38zM311 281h24v4h-24zM354 281h14v4h-14zM372 281h10v4h-10zM401 281h14v4h-14zM434 281h99v4h-99zM193 285h33v4h-33zM236 285h23v4h-23zM269 285h9v4h-9zM292 285h5v4h-5zM330 285h5v4h-5zM354 285h14v4h-14zM372 285h15v4h-15zM401 285h14v4h-14zM429 285h28v4h-28zM467 285h28v4h-28zM504 285h24v4h-24zM198 289h28v4h-28zM264 289h14v4h-14zM292 289h10v4h-10zM330 289h5v4h-5zM354 289h14v4h-14zM377 289h10v4h-10zM401 289h28v4h-28zM443 289h42v4h-42zM504 289h14v4h-14zM198 293h14v4h-14zM222 293h9v4h-9zM255 293h28v4h-28zM292 293h19v4h-19zM330 293h5v4h-5zM344 293h19v4h-19zM377 293h10v4h-10zM401 293h14v4h-14zM434 293h23v4h-23zM462 293h23v4h-23zM509 293h5v4h-5zM193 297h15v4h-15zM222 297h47v4h-47zM273 297h90v4h-90zM377 297h10v4h-10zM401 297h9v4h-9zM429 297h14v4h-14zM448 297h5v4h-5zM467 297h28v4h-28zM509 297h5v4h-5zM523 297h10v4h-10zM193 301h10v4h-10zM222 301h14v4h-14zM245 301h71v4h-71zM321 301h37v4h-37zM363 301h24v4h-24zM405 301h5v4h-5zM424 301h5v4h-5zM448 301h5v4h-5zM467 301h18v4h-18zM490 301h47v4h-47zM193 305h10v4h-10zM217 305h19v4h-19zM245 305h71v4h-71zM330 305h42v4h-42zM382 305h14v4h-14zM401 305h14v4h-14zM424 305h5v4h-5zM448 305h33v4h-33zM490 305h47v4h-47zM193 309h29v4h-29zM226 309h10v4h-10zM245 309h43v4h-43zM292 309h10v4h-10zM311 309h5v4h-5zM330 309h19v4h-19zM358 309h14v4h-14zM382 309h47v4h-47zM448 309h28v4h-28zM485 309h52v4h-52zM193 313h10v4h-10zM208 313h14v4h-14zM226 313h10v4h-10zM245 313h43v4h-43zM292 313h24v4h-24zM330 313h14v4h-14zM363 313h9v4h-9zM382 313h14v4h-14zM410 313h71v4h-71zM485 313h52v4h-52zM198 317h33v4h-33zM245 317h43v4h-43zM297 317h24v4h-24zM325 317h10v4h-10zM339 317h5v4h-5zM358 317h19v4h-19zM387 317h4v4h-4zM415 317h122v4h-122zM198 321h33v4h-33zM245 321h38v4h-38zM306 321h24v4h-24zM339 321h29v4h-29zM372 321h15v4h-15zM415 321h23v4h-23zM448 321h14v4h-14zM467 321h18v4h-18zM495 321h38v4h-38zM217 325h14v4h-14zM269 325h9v4h-9zM306 325h24v4h-24zM344 325h24v4h-24zM377 325h10v4h-10zM410 325h24v4h-24zM448 325h28v4h-28zM500 325h14v4h-14zM518 325h19v4h-19zM212 329h24v4h-24zM269 329h4v4h-4zM306 329h29v4h-29zM349 329h19v4h-19zM382 329h9v4h-9zM396 329h28v4h-28zM448 329h28v4h-28zM509 329h9v4h-9zM533 329h4v4h-4zM208 333h4v4h-4zM226 333h10v4h-10zM259 333h14v4h-14zM297 333h14v4h-14zM316 333h9v4h-9zM335 333h37v4h-37zM387 333h28v4h-28zM453 333h28v4h-28zM509 333h14v4h-14zM533 333h4v4h-4zM208 337h4v4h-4zM226 337h14v4h-14zM255 337h14v4h-14zM278 337h10v4h-10zM292 337h10v4h-10zM311 337h10v4h-10zM339 337h33v4h-33zM382 337h19v4h-19zM405 337h10v4h-10zM471 337h14v4h-14zM509 337h24v4h-24zM208 341h9v4h-9zM226 341h29v4h-29zM273 341h29v4h-29zM306 341h15v4h-15zM335 341h4v4h-4zM349 341h71v4h-71zM471 341h19v4h-19zM514 341h19v4h-19zM208 345h18v4h-18zM236 345h19v4h-19zM269 345h9v4h-9zM283 345h56v4h-56zM349 345h56v4h-56zM410 345h14v4h-14zM448 345h9v4h-9zM467 345h9v4h-9zM485 345h19v4h-19zM518 345h15v4h-15zM198 349h14v4h-14zM236 349h23v4h-23zM269 349h4v4h-4zM283 349h61v4h-61zM349 349h56v4h-56zM415 349h42v4h-42zM462 349h9v4h-9zM490 349h14v4h-14zM514 349h19v4h-19zM198 353h10v4h-10zM236 353h23v4h-23zM264 353h9v4h-9zM288 353h23v4h-23zM316 353h14v4h-14zM339 353h33v4h-33zM382 353h14v4h-14zM401 353h9v4h-9zM415 353h33v4h-33zM467 353h9v4h-9zM490 353h38v4h-38zM198 357h10v4h-10zM236 357h19v4h-19zM264 357h9v4h-9zM292 357h10v4h-10zM321 357h14v4h-14zM344 357h28v4h-28zM382 357h61v4h-61zM467 357h14v4h-14zM490 357h10v4h-10zM518 357h10v4h-10zM203 361h9v4h-9zM217 361h14v4h-14zM236 361h19v4h-19zM269 361h4v4h-4zM297 361h5v4h-5zM321 361h23v4h-23zM349 361h28v4h-28zM382 361h47v4h-47zM438 361h5v4h-5zM457 361h19v4h-19zM490 361h10v4h-10zM523 361h5v4h-5zM222 365h4v4h-4zM236 365h19v4h-19zM264 365h9v4h-9zM297 365h5v4h-5zM321 365h23v4h-23zM349 365h66v4h-66zM420 365h9v4h-9zM438 365h10v4h-10zM453 365h23v4h-23zM485 365h15v4h-15zM523 365h5v4h-5zM208 369h9v4h-9zM236 369h28v4h-28zM297 369h5v4h-5zM316 369h42v4h-42zM363 369h47v4h-47zM424 369h5v4h-5zM434 369h9v4h-9zM457 369h14v4h-14zM485 369h24v4h-24zM518 369h10v4h-10zM208 373h18v4h-18zM231 373h9v4h-9zM250 373h14v4h-14zM297 373h5v4h-5zM311 373h14v4h-14zM330 373h24v4h-24zM363 373h47v4h-47zM420 373h23v4h-23zM462 373h9v4h-9zM485 373h48v4h-48zM208 377h32v4h-32zM245 377h14v4h-14zM273 377h5v4h-5zM292 377h5v4h-5zM306 377h19v4h-19zM330 377h28v4h-28zM363 377h24v4h-24zM391 377h43v4h-43zM462 377h28v4h-28zM500 377h9v4h-9zM523 377h5v4h-5zM208 381h75v4h-75zM288 381h9v4h-9zM306 381h10v4h-10zM321 381h37v4h-37zM372 381h15v4h-15zM391 381h10v4h-10zM405 381h19v4h-19zM457 381h33v4h-33zM500 381h9v4h-9zM208 385h23v4h-23zM240 385h10v4h-10zM259 385h33v4h-33zM306 385h5v4h-5zM316 385h14v4h-14zM339 385h19v4h-19zM372 385h24v4h-24zM405 385h19v4h-19zM457 385h47v4h-47zM514 385h9v4h-9zM203 389h42v4h-42zM264 389h28v4h-28zM306 389h19v4h-19zM339 389h24v4h-24zM372 389h19v4h-19zM405 389h24v4h-24zM457 389h38v4h-38zM514 389h9v4h-9zM208 393h37v4h-37zM269 393h23v4h-23zM302 393h70v4h-70zM382 393h9v4h-9zM405 393h29v4h-29zM457 393h5v4h-5zM471 393h10v4h-10zM208 397h4v4h-4zM217 397h9v4h-9zM236 397h19v4h-19zM269 397h23v4h-23zM302 397h56v4h-56zM382 397h14v4h-14zM405 397h33v4h-33zM471 397h10v4h-10zM208 401h47v4h-47zM269 401h23v4h-23zM302 401h42v4h-42zM354 401h4v4h-4zM391 401h10v4h-10zM410 401h14v4h-14zM438 401h5v4h-5zM457 401h5v4h-5zM471 401h10v4h-10zM490 401h14v4h-14zM212 405h47v4h-47zM269 405h4v4h-4zM283 405h61v4h-61zM358 405h19v4h-19zM396 405h5v4h-5zM405 405h19v4h-19zM434 405h9v4h-9zM457 405h19v4h-19zM490 405h5v4h-5zM500 405h4v4h-4zM542 405h5v4h-5zM217 409h9v4h-9zM236 409h37v4h-37zM283 409h61v4h-61zM358 409h29v4h-29zM396 409h42v4h-42zM462 409h14v4h-14zM490 409h5v4h-5zM500 409h9v4h-9zM222 413h4v4h-4zM236 413h9v4h-9zM250 413h99v4h-99zM354 413h14v4h-14zM382 413h23v4h-23zM424 413h10v4h-10zM462 413h14v4h-14zM485 413h10v4h-10zM500 413h9v4h-9zM222 417h18v4h-18zM259 417h71v4h-71zM335 417h9v4h-9zM354 417h14v4h-14zM382 417h19v4h-19zM429 417h9v4h-9zM462 417h42v4h-42zM255 421h61v4h-61zM321 421h9v4h-9zM335 421h9v4h-9zM354 421h14v4h-14zM377 421h24v4h-24zM434 421h9v4h-9zM457 421h33v4h-33zM255 425h33v4h-33zM302 425h28v4h-28zM335 425h4v4h-4zM358 425h19v4h-19zM396 425h9v4h-9zM434 425h9v4h-9zM457 425h33v4h-33zM255 429h33v4h-33zM311 429h28v4h-28zM354 429h18v4h-18zM396 429h14v4h-14zM429 429h38v4h-38zM523 429h5v4h-5zM278 433h10v4h-10zM311 433h28v4h-28zM349 433h28v4h-28zM387 433h4v4h-4zM401 433h14v4h-14zM429 433h24v4h-24zM518 433h5v4h-5zM212 437h5v4h-5zM292 437h19v4h-19zM335 437h85v4h-85zM514 437h4v4h-4zM222 441h4v4h-4zM372 441h10v4h-10zM401 441h4v4h-4zM495 445h5v4h-5zM278 453h5v4h-5zM462 453h5v4h-5zM316 457h9v4h-9zM415 457h5v4h-5zM335 461h70v4h-70z"/><path fill="#ffe500" d="M278 93h5v4h-5zM240 101h5v4h-5zM306 101h24v4h-24zM410 101h24v4h-24zM490 101h5v4h-5zM226 105h5v4h-5zM500 105h4v4h-4zM222 109h4v4h-4zM245 109h14v4h-14zM476 109h9v4h-9zM509 109h5v4h-5zM212 113h24v4h-24zM514 113h4v4h-4zM208 117h9v4h-9zM509 117h14v4h-14zM203 121h9v4h-9zM523 121h5v4h-5zM193 125h5v4h-5zM203 125h5v4h-5zM523 125h10v4h-10zM189 129h4v4h-4zM523 129h5v4h-5zM198 133h5v4h-5zM179 149h5v4h-5zM189 201h4v4h-4zM537 213h5v4h-5zM537 333h5v4h-5zM189 337h4v4h-4zM537 337h5v4h-5zM179 397h5v4h-5zM198 401h5v4h-5zM198 405h5v4h-5zM198 409h5v4h-5zM528 413h5v4h-5zM537 413h5v4h-5zM193 417h5v4h-5zM203 417h5v4h-5zM198 421h10v4h-10zM523 421h10v4h-10zM208 425h4v4h-4zM518 425h10v4h-10zM212 429h10v4h-10zM504 429h5v4h-5zM514 429h9v4h-9zM217 433h5v4h-5zM231 433h14v4h-14zM288 441h4v4h-4zM434 441h4v4h-4zM453 441h4v4h-4zM335 445h19v4h-19zM387 445h18v4h-18zM485 445h5v4h-5zM259 449h10v4h-10zM471 449h10v4h-10z"/><path fill="#ffd400" d="M283 93h5v4h-5zM453 93h4v4h-4zM259 97h10v4h-10zM467 97h9v4h-9zM245 101h5v4h-5zM236 105h4v4h-4zM259 105h19v4h-19zM457 105h19v4h-19zM231 109h14v4h-14zM500 109h4v4h-4zM198 129h5v4h-5zM537 133h5v4h-5zM193 149h5v4h-5zM533 149h4v4h-4zM179 153h5v4h-5zM533 153h4v4h-4zM547 153h4v4h-4zM193 157h5v4h-5zM533 157h4v4h-4zM184 217h5v4h-5zM184 221h5v4h-5zM184 225h5v4h-5zM184 229h5v4h-5zM184 233h5v4h-5zM542 233h5v4h-5zM184 237h5v4h-5zM542 237h5v4h-5zM184 241h5v4h-5zM542 241h5v4h-5zM184 245h5v4h-5zM542 245h5v4h-5zM184 249h5v4h-5zM542 249h5v4h-5zM184 253h5v4h-5zM542 253h5v4h-5zM184 257h5v4h-5zM542 257h5v4h-5zM542 261h5v4h-5zM542 265h5v4h-5zM542 269h5v4h-5zM542 273h5v4h-5zM542 277h5v4h-5zM542 281h5v4h-5zM184 285h5v4h-5zM542 285h5v4h-5zM184 289h5v4h-5zM542 289h5v4h-5zM184 293h5v4h-5zM542 293h5v4h-5zM184 297h5v4h-5zM542 297h5v4h-5zM184 301h5v4h-5zM542 301h5v4h-5zM184 305h5v4h-5zM542 305h5v4h-5zM184 309h5v4h-5zM542 309h5v4h-5zM184 313h5v4h-5zM542 313h5v4h-5zM184 317h5v4h-5zM184 321h5v4h-5zM179 389h5v4h-5zM193 389h5v4h-5zM547 389h4v4h-4zM193 393h5v4h-5zM193 397h5v4h-5zM189 409h4v4h-4zM537 409h5v4h-5zM198 413h5v4h-5zM533 413h4v4h-4zM504 433h5v4h-5zM226 437h5v4h-5zM240 437h19v4h-19zM476 437h19v4h-19zM504 437h5v4h-5zM306 445h24v4h-24zM410 445h28v4h-28zM330 457h9v4h-9zM401 457h9v4h-9z"/><path fill="#ffa200" d="M297 93h5v4h-5zM349 93h42v4h-42zM434 93h9v4h-9zM278 97h19v4h-19zM438 97h19v4h-19zM189 149h4v4h-4zM537 153h5v4h-5zM547 161h4v4h-4zM184 201h5v4h-5zM170 253h5v4h-5zM556 253h5v4h-5zM170 257h5v4h-5zM556 257h5v4h-5zM170 261h5v4h-5zM556 261h5v4h-5zM170 265h5v4h-5zM556 265h5v4h-5zM170 269h5v4h-5zM556 269h5v4h-5zM170 273h5v4h-5zM556 273h5v4h-5zM170 277h5v4h-5zM556 277h5v4h-5zM170 281h5v4h-5zM556 281h5v4h-5zM170 285h5v4h-5zM556 285h5v4h-5zM170 289h5v4h-5zM556 289h5v4h-5zM184 337h5v4h-5zM547 381h4v4h-4zM537 389h5v4h-5zM189 393h4v4h-4zM288 449h4v4h-4zM302 449h9v4h-9zM325 449h5v4h-5zM410 449h5v4h-5zM424 449h33v4h-33zM316 453h9v4h-9zM415 453h5v4h-5zM339 457h24v4h-24zM372 457h29v4h-29z"/><path fill="#ff9900" d="M302 93h19v4h-19zM415 93h19v4h-19zM297 97h5v4h-5zM189 153h4v4h-4zM179 161h5v4h-5zM184 173h5v4h-5zM542 177h5v4h-5zM542 213h5v4h-5zM542 333h5v4h-5zM542 365h5v4h-5zM184 369h5v4h-5zM179 381h5v4h-5zM184 393h5v4h-5zM292 449h10v4h-10zM311 449h14v4h-14zM415 449h9v4h-9zM325 453h5v4h-5zM410 453h5v4h-5zM363 457h9v4h-9z"/><path fill="#ffcc00" d="M448 93h5v4h-5zM250 101h5v4h-5zM288 101h18v4h-18zM434 101h19v4h-19zM481 101h4v4h-4zM490 109h10v4h-10zM193 129h5v4h-5zM533 133h4v4h-4zM533 137h4v4h-4zM193 141h5v4h-5zM193 145h5v4h-5zM193 153h5v4h-5zM175 165h4v4h-4zM537 165h5v4h-5zM175 169h4v4h-4zM551 169h5v4h-5zM175 173h4v4h-4zM551 173h5v4h-5zM184 261h5v4h-5zM184 265h5v4h-5zM184 269h5v4h-5zM184 273h5v4h-5zM184 277h5v4h-5zM184 281h5v4h-5zM175 369h4v4h-4zM175 373h4v4h-4zM551 373h5v4h-5zM175 377h4v4h-4zM537 377h5v4h-5zM533 397h4v4h-4zM533 401h4v4h-4zM533 405h4v4h-4zM193 409h5v4h-5zM533 409h4v4h-4zM193 413h5v4h-5zM231 437h9v4h-9zM495 437h9v4h-9zM236 441h4v4h-4zM471 441h5v4h-5zM495 441h5v4h-5zM349 449h42v4h-42z"/><path fill="#ffee00" d="M457 93h5v4h-5zM250 97h5v4h-5zM330 101h5v4h-5zM382 101h9v4h-9zM405 101h5v4h-5zM278 105h10v4h-10zM453 105h4v4h-4zM504 105h5v4h-5zM217 109h5v4h-5zM259 109h5v4h-5zM471 109h5v4h-5zM236 113h9v4h-9zM485 113h15v4h-15zM518 113h5v4h-5zM217 117h9v4h-9zM504 117h5v4h-5zM523 117h5v4h-5zM198 121h5v4h-5zM212 121h5v4h-5zM514 121h9v4h-9zM528 121h5v4h-5zM208 125h4v4h-4zM518 125h5v4h-5zM533 125h4v4h-4zM203 129h5v4h-5zM203 133h5v4h-5zM528 141h5v4h-5zM528 145h5v4h-5zM193 161h5v4h-5zM533 161h4v4h-4zM193 169h5v4h-5zM193 173h5v4h-5zM193 177h5v4h-5zM189 205h4v4h-4zM189 209h4v4h-4zM189 213h4v4h-4zM189 217h4v4h-4zM537 217h5v4h-5zM537 221h5v4h-5zM537 225h5v4h-5zM537 229h5v4h-5zM537 233h5v4h-5zM537 317h5v4h-5zM189 321h4v4h-4zM537 321h5v4h-5zM189 325h4v4h-4zM537 325h5v4h-5zM189 329h4v4h-4zM537 329h5v4h-5zM189 333h4v4h-4zM193 381h5v4h-5zM193 385h5v4h-5zM528 393h5v4h-5zM198 397h5v4h-5zM528 401h5v4h-5zM528 405h5v4h-5zM203 409h5v4h-5zM189 413h4v4h-4zM203 413h5v4h-5zM523 413h5v4h-5zM523 417h5v4h-5zM193 421h5v4h-5zM208 421h4v4h-4zM514 421h9v4h-9zM203 425h5v4h-5zM212 425h5v4h-5zM504 425h14v4h-14zM208 429h4v4h-4zM222 429h14v4h-14zM500 429h4v4h-4zM212 433h5v4h-5zM222 437h4v4h-4zM259 437h24v4h-24zM457 437h19v4h-19zM231 441h5v4h-5zM292 441h19v4h-19zM438 441h15v4h-15zM240 445h10v4h-10zM490 445h5v4h-5zM325 457h5v4h-5zM410 457h5v4h-5z"/><path fill="#0011ff" d="M198 97h5v4h-5zM193 101h5v4h-5zM184 105h9v4h-9zM179 109h5v4h-5zM175 113h4v4h-4zM547 433h4v4h-4zM542 437h5v4h-5zM533 445h9v4h-9zM528 449h5v4h-5z"/><path fill="#0044ff" d="M208 97h4v4h-4z"/><path fill="#006fff" d="M212 97h5v4h-5zM193 105h5v4h-5zM537 437h5v4h-5zM533 441h4v4h-4z"/><path fill="#00ffd4" d="M217 97h5v4h-5z"/><path fill="#00ff90" d="M222 97h4v4h-4zM175 141h4v4h-4zM198 437h5v4h-5zM203 441h5v4h-5z"/><path fill="#00ff55" d="M226 97h5v4h-5zM551 141h5v4h-5zM556 161h5v4h-5zM561 213h5v4h-5zM561 333h5v4h-5z"/><path fill="#5eff00" d="M231 97h5v4h-5zM179 137h5v4h-5zM175 149h4v4h-4z"/><path fill="#88ff00" d="M236 97h4v4h-4zM212 441h5v4h-5zM222 445h4v4h-4z"/><path fill="#bbff00" d="M245 97h5v4h-5zM485 97h5v4h-5zM528 113h5v4h-5zM533 117h4v4h-4zM170 197h5v4h-5zM170 341h5v4h-5zM542 413h5v4h-5zM208 437h4v4h-4z"/><path fill="#ffb300" d="M269 97h4v4h-4zM410 97h5v4h-5zM434 97h4v4h-4zM462 97h5v4h-5zM259 101h10v4h-10zM467 101h9v4h-9zM537 141h5v4h-5zM537 145h5v4h-5zM184 149h5v4h-5zM542 149h5v4h-5zM189 157h4v4h-4zM175 193h4v4h-4zM170 205h5v4h-5zM184 205h5v4h-5zM170 209h5v4h-5zM184 209h5v4h-5zM170 213h5v4h-5zM170 217h5v4h-5zM170 325h5v4h-5zM556 325h5v4h-5zM170 329h5v4h-5zM542 329h5v4h-5zM170 333h5v4h-5zM184 333h5v4h-5zM551 341h5v4h-5zM175 345h4v4h-4zM189 385h4v4h-4zM189 389h4v4h-4zM184 397h5v4h-5zM537 397h10v4h-10zM189 401h4v4h-4zM537 401h5v4h-5zM259 445h5v4h-5zM283 445h9v4h-9zM457 445h10v4h-10zM471 445h10v4h-10zM278 449h5v4h-5zM335 449h9v4h-9zM391 449h14v4h-14zM438 453h10v4h-10z"/><path fill="#ffaa00" d="M273 97h5v4h-5zM302 97h28v4h-28zM415 97h19v4h-19zM457 97h5v4h-5zM269 101h4v4h-4zM462 101h5v4h-5zM189 141h4v4h-4zM189 145h4v4h-4zM537 149h5v4h-5zM551 205h5v4h-5zM184 213h5v4h-5zM542 217h5v4h-5zM170 221h5v4h-5zM542 221h5v4h-5zM556 221h5v4h-5zM170 225h5v4h-5zM542 225h5v4h-5zM556 225h5v4h-5zM170 229h5v4h-5zM542 229h5v4h-5zM556 229h5v4h-5zM170 233h5v4h-5zM556 233h5v4h-5zM170 237h5v4h-5zM556 237h5v4h-5zM170 241h5v4h-5zM556 241h5v4h-5zM170 245h5v4h-5zM556 245h5v4h-5zM170 249h5v4h-5zM556 249h5v4h-5zM170 293h5v4h-5zM556 293h5v4h-5zM170 297h5v4h-5zM556 297h5v4h-5zM170 301h5v4h-5zM556 301h5v4h-5zM170 305h5v4h-5zM556 305h5v4h-5zM170 309h5v4h-5zM556 309h5v4h-5zM170 313h5v4h-5zM556 313h5v4h-5zM170 317h5v4h-5zM542 317h5v4h-5zM556 317h5v4h-5zM170 321h5v4h-5zM542 321h5v4h-5zM556 321h5v4h-5zM184 325h5v4h-5zM542 325h5v4h-5zM184 329h5v4h-5zM537 393h10v4h-10zM189 397h4v4h-4zM264 445h19v4h-19zM467 445h4v4h-4zM283 449h5v4h-5zM330 449h5v4h-5zM344 449h5v4h-5zM405 449h5v4h-5zM457 449h5v4h-5zM297 453h19v4h-19zM420 453h18v4h-18z"/><path fill="#aaff00" d="M490 97h5v4h-5zM184 129h5v4h-5zM556 209h5v4h-5zM556 337h5v4h-5zM551 385h5v4h-5zM179 405h5v4h-5zM226 445h5v4h-5zM240 449h5v4h-5zM259 453h5v4h-5zM476 453h5v4h-5zM288 457h4v4h-4zM453 457h4v4h-4zM330 461h5v4h-5zM405 461h5v4h-5z"/><path fill="#0091ff" d="M203 101h5v4h-5zM528 441h5v4h-5z"/><path fill="#00ffaa" d="M208 101h4v4h-4zM551 137h5v4h-5zM556 157h5v4h-5zM561 209h5v4h-5zM561 337h5v4h-5z"/><path fill="#00ff66" d="M212 101h5v4h-5z"/><path fill="#00ff11" d="M217 101h5v4h-5zM537 429h5v4h-5z"/><path fill="#99ff00" d="M222 101h4v4h-4zM547 137h4v4h-4zM189 425h4v4h-4zM193 429h5v4h-5zM504 445h5v4h-5z"/><path fill="#c3ff00" d="M226 101h10v4h-10zM537 125h5v4h-5zM542 129h5v4h-5zM189 421h4v4h-4zM203 433h5v4h-5z"/><path fill="#00ff5e" d="M514 101h4v4h-4zM523 105h5v4h-5zM547 129h4v4h-4z"/><path fill="#00aaff" d="M198 105h5v4h-5zM523 445h5v4h-5z"/><path fill="#00ff2b" d="M203 105h5v4h-5zM542 125h5v4h-5z"/><path fill="#22ff00" d="M208 105h4v4h-4z"/><path fill="#d5ff00" d="M217 105h5v4h-5zM533 121h4v4h-4zM542 133h5v4h-5zM547 141h4v4h-4zM547 145h4v4h-4zM179 401h5v4h-5zM184 409h5v4h-5z"/><path fill="#e6ff00" d="M222 105h4v4h-4zM509 165h5v4h-5zM170 201h5v4h-5zM217 205h5v4h-5zM462 233h14v4h-14zM467 237h9v4h-9zM467 241h9v4h-9zM438 329h5v4h-5zM434 333h14v4h-14zM490 333h10v4h-10zM429 337h19v4h-19zM429 341h14v4h-14zM283 365h9v4h-9zM283 369h5v4h-5zM443 377h10v4h-10zM438 381h15v4h-15zM434 385h19v4h-19zM438 389h10v4h-10zM443 393h5v4h-5zM537 417h5v4h-5zM537 421h5v4h-5zM533 425h4v4h-4zM500 445h4v4h-4z"/><path fill="#eeff00" d="M363 105h5v4h-5zM212 109h5v4h-5zM354 109h14v4h-14zM391 109h10v4h-10zM203 113h5v4h-5zM391 113h10v4h-10zM438 113h10v4h-10zM255 117h9v4h-9zM396 117h5v4h-5zM438 117h10v4h-10zM250 121h14v4h-14zM288 125h18v4h-18zM415 125h14v4h-14zM264 129h9v4h-9zM283 129h28v4h-28zM415 129h14v4h-14zM471 129h14v4h-14zM537 129h5v4h-5zM264 133h52v4h-52zM339 133h10v4h-10zM420 133h9v4h-9zM471 133h5v4h-5zM264 137h52v4h-52zM339 137h10v4h-10zM420 137h14v4h-14zM453 137h23v4h-23zM273 141h43v4h-43zM387 141h9v4h-9zM420 141h9v4h-9zM438 141h10v4h-10zM462 141h14v4h-14zM273 145h15v4h-15zM297 145h19v4h-19zM387 145h9v4h-9zM415 145h9v4h-9zM467 145h9v4h-9zM222 149h4v4h-4zM273 149h10v4h-10zM306 149h10v4h-10zM391 149h10v4h-10zM471 149h5v4h-5zM217 153h9v4h-9zM269 153h14v4h-14zM391 153h10v4h-10zM217 157h23v4h-23zM269 157h9v4h-9zM391 157h5v4h-5zM500 157h14v4h-14zM222 161h4v4h-4zM231 161h5v4h-5zM269 161h9v4h-9zM500 161h23v4h-23zM269 165h9v4h-9zM311 165h10v4h-10zM504 165h5v4h-5zM514 165h9v4h-9zM273 169h5v4h-5zM504 169h14v4h-14zM273 173h5v4h-5zM377 173h14v4h-14zM509 173h5v4h-5zM377 177h14v4h-14zM240 181h24v4h-24zM377 181h5v4h-5zM236 185h23v4h-23zM372 185h10v4h-10zM226 189h29v4h-29zM372 189h10v4h-10zM231 193h24v4h-24zM335 193h9v4h-9zM405 193h15v4h-15zM208 197h18v4h-18zM236 197h14v4h-14zM321 197h4v4h-4zM335 197h9v4h-9zM405 197h15v4h-15zM203 201h23v4h-23zM321 201h4v4h-4zM405 201h19v4h-19zM203 205h14v4h-14zM222 205h4v4h-4zM405 205h19v4h-19zM495 205h9v4h-9zM208 209h18v4h-18zM410 209h19v4h-19zM490 209h14v4h-14zM212 213h10v4h-10zM306 213h10v4h-10zM391 213h5v4h-5zM415 213h9v4h-9zM485 213h19v4h-19zM556 213h5v4h-5zM269 217h9v4h-9zM311 217h5v4h-5zM339 217h5v4h-5zM391 217h10v4h-10zM481 217h28v4h-28zM556 217h5v4h-5zM203 221h5v4h-5zM264 221h24v4h-24zM339 221h5v4h-5zM396 221h9v4h-9zM476 221h33v4h-33zM203 225h5v4h-5zM231 225h5v4h-5zM264 225h24v4h-24zM302 225h19v4h-19zM335 225h9v4h-9zM372 225h10v4h-10zM476 225h33v4h-33zM236 229h4v4h-4zM302 229h19v4h-19zM330 229h19v4h-19zM372 229h10v4h-10zM453 229h37v4h-37zM504 229h5v4h-5zM231 233h19v4h-19zM302 233h14v4h-14zM335 233h14v4h-14zM453 233h9v4h-9zM476 233h9v4h-9zM504 233h10v4h-10zM231 237h33v4h-33zM335 237h14v4h-14zM453 237h14v4h-14zM476 237h5v4h-5zM504 237h10v4h-10zM226 241h38v4h-38zM339 241h10v4h-10zM457 241h10v4h-10zM476 241h5v4h-5zM504 241h14v4h-14zM222 245h4v4h-4zM240 245h5v4h-5zM339 245h5v4h-5zM462 245h19v4h-19zM514 245h9v4h-9zM208 249h18v4h-18zM292 249h5v4h-5zM335 249h9v4h-9zM462 249h9v4h-9zM514 249h14v4h-14zM208 253h18v4h-18zM288 253h14v4h-14zM330 253h14v4h-14zM514 253h19v4h-19zM208 257h18v4h-18zM288 257h14v4h-14zM325 257h14v4h-14zM368 257h4v4h-4zM514 257h23v4h-23zM208 261h18v4h-18zM288 261h14v4h-14zM325 261h5v4h-5zM363 261h9v4h-9zM495 261h14v4h-14zM533 261h4v4h-4zM212 265h10v4h-10zM288 265h23v4h-23zM325 265h5v4h-5zM363 265h5v4h-5zM391 265h5v4h-5zM212 269h10v4h-10zM283 269h28v4h-28zM363 269h5v4h-5zM377 269h24v4h-24zM434 269h4v4h-4zM278 273h33v4h-33zM377 273h24v4h-24zM420 273h23v4h-23zM283 277h23v4h-23zM377 277h24v4h-24zM415 277h23v4h-23zM283 281h28v4h-28zM382 281h19v4h-19zM415 281h19v4h-19zM226 285h10v4h-10zM259 285h10v4h-10zM278 285h14v4h-14zM297 285h33v4h-33zM387 285h14v4h-14zM415 285h14v4h-14zM457 285h10v4h-10zM495 285h9v4h-9zM226 289h38v4h-38zM278 289h14v4h-14zM302 289h28v4h-28zM387 289h14v4h-14zM485 289h19v4h-19zM231 293h24v4h-24zM283 293h9v4h-9zM311 293h19v4h-19zM387 293h14v4h-14zM485 293h24v4h-24zM387 297h14v4h-14zM443 297h5v4h-5zM495 297h14v4h-14zM387 301h18v4h-18zM429 301h19v4h-19zM396 305h5v4h-5zM429 305h19v4h-19zM222 309h4v4h-4zM302 309h9v4h-9zM429 309h19v4h-19zM203 313h5v4h-5zM222 313h4v4h-4zM335 317h4v4h-4zM330 321h9v4h-9zM368 321h4v4h-4zM438 321h10v4h-10zM485 321h10v4h-10zM330 325h14v4h-14zM368 325h9v4h-9zM434 325h14v4h-14zM476 325h24v4h-24zM514 325h4v4h-4zM335 329h14v4h-14zM368 329h14v4h-14zM424 329h14v4h-14zM443 329h5v4h-5zM476 329h33v4h-33zM518 329h15v4h-15zM556 329h5v4h-5zM212 333h14v4h-14zM311 333h5v4h-5zM372 333h15v4h-15zM415 333h19v4h-19zM448 333h5v4h-5zM481 333h9v4h-9zM500 333h9v4h-9zM523 333h10v4h-10zM556 333h5v4h-5zM170 337h5v4h-5zM212 337h14v4h-14zM302 337h9v4h-9zM372 337h10v4h-10zM401 337h4v4h-4zM415 337h14v4h-14zM448 337h23v4h-23zM485 337h24v4h-24zM217 341h9v4h-9zM302 341h4v4h-4zM420 341h9v4h-9zM443 341h28v4h-28zM490 341h24v4h-24zM278 345h5v4h-5zM424 345h24v4h-24zM457 345h10v4h-10zM504 345h14v4h-14zM273 349h10v4h-10zM457 349h5v4h-5zM504 349h10v4h-10zM273 353h15v4h-15zM330 353h9v4h-9zM372 353h10v4h-10zM396 353h5v4h-5zM448 353h19v4h-19zM273 357h19v4h-19zM335 357h9v4h-9zM372 357h10v4h-10zM443 357h24v4h-24zM273 361h24v4h-24zM344 361h5v4h-5zM377 361h5v4h-5zM443 361h14v4h-14zM273 365h10v4h-10zM292 365h5v4h-5zM344 365h5v4h-5zM415 365h5v4h-5zM448 365h5v4h-5zM264 369h19v4h-19zM288 369h9v4h-9zM410 369h14v4h-14zM443 369h14v4h-14zM240 373h10v4h-10zM264 373h33v4h-33zM325 373h5v4h-5zM410 373h10v4h-10zM443 373h19v4h-19zM240 377h5v4h-5zM259 377h14v4h-14zM278 377h14v4h-14zM325 377h5v4h-5zM387 377h4v4h-4zM434 377h9v4h-9zM453 377h9v4h-9zM490 377h10v4h-10zM283 381h5v4h-5zM316 381h5v4h-5zM387 381h4v4h-4zM424 381h14v4h-14zM453 381h4v4h-4zM490 381h10v4h-10zM231 385h9v4h-9zM311 385h5v4h-5zM424 385h10v4h-10zM453 385h4v4h-4zM429 389h9v4h-9zM448 389h9v4h-9zM372 393h10v4h-10zM434 393h9v4h-9zM448 393h9v4h-9zM462 393h9v4h-9zM212 397h5v4h-5zM358 397h24v4h-24zM438 397h33v4h-33zM358 401h33v4h-33zM443 401h14v4h-14zM462 401h9v4h-9zM273 405h10v4h-10zM377 405h19v4h-19zM443 405h14v4h-14zM495 405h5v4h-5zM226 409h10v4h-10zM273 409h10v4h-10zM387 409h9v4h-9zM438 409h24v4h-24zM495 409h5v4h-5zM226 413h10v4h-10zM434 413h28v4h-28zM495 413h5v4h-5zM330 417h5v4h-5zM438 417h24v4h-24zM330 421h5v4h-5zM443 421h14v4h-14zM288 425h14v4h-14zM330 425h5v4h-5zM377 425h19v4h-19zM443 425h14v4h-14zM288 429h23v4h-23zM372 429h24v4h-24zM528 429h5v4h-5zM288 433h23v4h-23zM377 433h10v4h-10zM391 433h10v4h-10zM509 441h5v4h-5zM231 445h5v4h-5zM245 449h10v4h-10zM485 449h5v4h-5zM264 453h14v4h-14zM467 453h9v4h-9zM292 457h24v4h-24zM420 457h33v4h-33z"/><path fill="#ccff00" d="M509 105h5v4h-5zM518 109h5v4h-5zM179 145h5v4h-5zM193 425h5v4h-5zM198 429h5v4h-5z"/><path fill="#00ffbb" d="M528 105h5v4h-5zM533 109h4v4h-4zM537 113h5v4h-5zM547 417h4v4h-4z"/><path fill="#0000ff" d="M547 105h4v4h-4zM551 109h5v4h-5zM551 113h5v4h-5zM556 117h5v4h-5zM561 121h5v4h-5zM561 125h5v4h-5zM561 129h5v4h-5zM566 133h4v4h-4zM566 137h4v4h-4zM566 141h4v4h-4zM566 145h4v4h-4zM566 149h4v4h-4zM570 153h5v4h-5zM570 157h5v4h-5zM570 161h5v4h-5zM570 165h5v4h-5zM570 169h5v4h-5zM570 173h5v4h-5zM570 177h5v4h-5zM570 181h5v4h-5zM570 185h5v4h-5zM570 189h5v4h-5zM570 193h5v4h-5zM570 197h5v4h-5zM570 201h5v4h-5zM575 205h5v4h-5zM575 209h5v4h-5zM575 213h5v4h-5zM575 217h5v4h-5zM575 221h5v4h-5zM575 225h5v4h-5zM575 229h5v4h-5zM575 233h5v4h-5zM575 237h5v4h-5zM575 241h5v4h-5zM575 245h5v4h-5zM575 249h5v4h-5zM575 253h5v4h-5zM575 257h5v4h-5zM575 261h5v4h-5zM575 265h5v4h-5zM575 269h5v4h-5zM575 273h5v4h-5zM575 277h5v4h-5zM575 281h5v4h-5zM575 285h5v4h-5zM575 289h5v4h-5zM575 293h5v4h-5zM575 297h5v4h-5zM575 301h5v4h-5zM575 305h5v4h-5zM575 309h5v4h-5zM575 313h5v4h-5zM575 317h5v4h-5zM575 321h5v4h-5zM575 325h5v4h-5zM575 329h5v4h-5zM575 333h5v4h-5zM575 337h5v4h-5zM575 341h5v4h-5zM570 345h5v4h-5zM570 349h5v4h-5zM570 353h5v4h-5zM570 357h5v4h-5zM570 361h5v4h-5zM570 365h5v4h-5zM570 369h5v4h-5zM570 373h5v4h-5zM570 377h5v4h-5zM570 381h5v4h-5zM570 385h5v4h-5zM570 389h5v4h-5zM566 393h4v4h-4zM566 397h4v4h-4zM566 401h4v4h-4zM566 405h4v4h-4z"/><path fill="#0019ff" d="M184 109h5v4h-5zM179 113h5v4h-5zM175 117h4v4h-4zM170 121h5v4h-5zM170 125h5v4h-5zM170 129h5v4h-5zM170 133h5v4h-5zM165 137h5v4h-5zM537 441h5v4h-5zM528 445h5v4h-5zM518 453h10v4h-10zM514 457h4v4h-4z"/><path fill="#0088ff" d="M189 109h4v4h-4z"/><path fill="#00ff00" d="M198 109h5v4h-5z"/><path fill="#55ff00" d="M203 109h5v4h-5zM175 145h4v4h-4zM184 421h5v4h-5zM208 441h4v4h-4zM217 445h5v4h-5z"/><path fill="#ddff00" d="M208 109h4v4h-4zM523 113h5v4h-5zM528 117h5v4h-5zM175 161h4v4h-4zM551 161h5v4h-5zM551 165h5v4h-5zM551 377h5v4h-5zM175 381h4v4h-4zM551 381h5v4h-5zM547 397h4v4h-4zM547 401h4v4h-4zM542 409h5v4h-5zM523 433h5v4h-5z"/><path fill="#00ff3c" d="M528 109h5v4h-5zM533 113h4v4h-4zM551 401h5v4h-5z"/><path fill="#00a2ff" d="M184 113h5v4h-5zM518 449h5v4h-5z"/><path fill="#2aff00" d="M193 113h5v4h-5zM184 121h5v4h-5zM490 453h5v4h-5z"/><path fill="#0099ff" d="M179 117h5v4h-5zM542 429h5v4h-5z"/><path fill="#00ffee" d="M184 117h5v4h-5z"/><path fill="#91ff00" d="M193 117h5v4h-5zM537 121h5v4h-5zM198 433h5v4h-5zM203 437h5v4h-5zM518 437h5v4h-5zM514 441h4v4h-4z"/><path fill="#00ff4d" d="M537 117h5v4h-5zM556 381h5v4h-5z"/><path fill="#00f7ff" d="M542 117h5v4h-5zM551 133h5v4h-5zM556 401h5v4h-5zM208 445h4v4h-4zM217 449h5v4h-5zM231 453h5v4h-5zM250 457h5v4h-5zM278 461h5v4h-5zM321 465h4v4h-4zM415 465h5v4h-5z"/><path fill="#00c3ff" d="M179 121h5v4h-5zM514 449h4v4h-4zM490 457h10v4h-10z"/><path fill="#a2ff00" d="M189 121h4v4h-4zM179 141h5v4h-5zM551 157h5v4h-5zM184 413h5v4h-5zM542 417h5v4h-5zM490 449h5v4h-5z"/><path fill="#00b2ff" d="M175 125h4v4h-4zM537 433h5v4h-5zM509 453h5v4h-5z"/><path fill="#00bbff" d="M175 129h4v4h-4zM175 133h4v4h-4zM504 453h5v4h-5z"/><path fill="#6eff00" d="M547 133h4v4h-4zM556 193h5v4h-5zM556 197h5v4h-5zM165 201h5v4h-5zM556 201h5v4h-5zM165 205h5v4h-5zM165 209h5v4h-5zM165 213h5v4h-5zM165 217h5v4h-5zM561 217h5v4h-5zM165 221h5v4h-5zM561 221h5v4h-5zM165 225h5v4h-5zM561 225h5v4h-5zM165 229h5v4h-5zM561 229h5v4h-5zM165 233h5v4h-5zM561 233h5v4h-5zM165 237h5v4h-5zM561 237h5v4h-5zM165 241h5v4h-5zM561 241h5v4h-5zM165 245h5v4h-5zM561 245h5v4h-5zM165 249h5v4h-5zM561 249h5v4h-5zM165 253h5v4h-5zM561 253h5v4h-5zM165 257h5v4h-5zM561 257h5v4h-5zM165 261h5v4h-5zM561 261h5v4h-5zM165 265h5v4h-5zM561 265h5v4h-5zM165 269h5v4h-5zM561 269h5v4h-5zM165 273h5v4h-5zM561 273h5v4h-5zM165 277h5v4h-5zM561 277h5v4h-5zM165 281h5v4h-5zM561 281h5v4h-5zM165 285h5v4h-5zM561 285h5v4h-5zM165 289h5v4h-5zM561 289h5v4h-5zM165 293h5v4h-5zM561 293h5v4h-5zM165 297h5v4h-5zM561 297h5v4h-5zM165 301h5v4h-5zM561 301h5v4h-5zM165 305h5v4h-5zM561 305h5v4h-5zM165 309h5v4h-5zM561 309h5v4h-5zM165 313h5v4h-5zM561 313h5v4h-5zM165 317h5v4h-5zM561 317h5v4h-5zM165 321h5v4h-5zM561 321h5v4h-5zM165 325h5v4h-5zM561 325h5v4h-5zM165 329h5v4h-5zM561 329h5v4h-5zM165 333h5v4h-5zM165 337h5v4h-5zM556 345h5v4h-5zM170 349h5v4h-5zM556 349h5v4h-5zM556 353h5v4h-5zM556 357h5v4h-5zM556 361h5v4h-5zM556 365h5v4h-5zM556 369h5v4h-5zM556 373h5v4h-5zM556 377h5v4h-5zM551 393h5v4h-5zM184 417h5v4h-5z"/><path fill="#66ff00" d="M551 145h5v4h-5zM551 149h5v4h-5zM170 161h5v4h-5zM170 165h5v4h-5zM556 165h5v4h-5zM170 169h5v4h-5zM556 169h5v4h-5zM170 173h5v4h-5zM556 173h5v4h-5zM170 177h5v4h-5zM556 177h5v4h-5zM170 181h5v4h-5zM556 181h5v4h-5zM170 185h5v4h-5zM556 185h5v4h-5zM170 189h5v4h-5zM556 189h5v4h-5zM170 353h5v4h-5zM170 357h5v4h-5zM170 361h5v4h-5zM170 365h5v4h-5zM170 369h5v4h-5zM170 373h5v4h-5zM170 377h5v4h-5zM170 381h5v4h-5zM175 393h4v4h-4zM175 397h4v4h-4zM175 401h4v4h-4zM533 429h4v4h-4zM528 433h5v4h-5zM509 445h5v4h-5z"/><path fill="#ff8800" d="M184 157h5v4h-5zM542 157h5v4h-5zM184 161h5v4h-5zM542 161h5v4h-5zM184 189h5v4h-5zM542 189h5v4h-5zM184 193h5v4h-5zM542 193h5v4h-5zM542 197h5v4h-5zM542 209h5v4h-5zM542 341h5v4h-5zM184 345h5v4h-5zM542 345h5v4h-5zM184 349h5v4h-5zM542 349h5v4h-5zM184 353h5v4h-5zM542 353h5v4h-5zM547 373h4v4h-4zM542 377h5v4h-5zM184 381h5v4h-5zM542 381h5v4h-5zM184 385h5v4h-5zM542 385h5v4h-5zM335 453h9v4h-9zM396 453h9v4h-9z"/><path fill="#ff8000" d="M184 165h5v4h-5zM542 165h5v4h-5zM184 169h5v4h-5zM542 169h5v4h-5zM542 201h5v4h-5zM542 205h5v4h-5zM184 373h5v4h-5zM542 373h5v4h-5zM184 377h5v4h-5z"/><path fill="#ff6e00" d="M179 169h5v4h-5zM551 213h5v4h-5zM179 229h5v4h-5zM547 229h4v4h-4zM179 233h5v4h-5zM547 233h4v4h-4zM179 237h5v4h-5zM547 237h4v4h-4zM179 241h5v4h-5zM547 241h4v4h-4zM179 245h5v4h-5zM547 245h4v4h-4zM179 297h5v4h-5zM547 297h4v4h-4zM179 301h5v4h-5zM547 301h4v4h-4zM179 305h5v4h-5zM547 305h4v4h-4zM179 309h5v4h-5zM547 309h4v4h-4zM179 313h5v4h-5zM547 313h4v4h-4zM551 333h5v4h-5zM179 373h5v4h-5z"/><path fill="#ff6600" d="M179 173h5v4h-5zM547 173h4v4h-4zM179 177h5v4h-5zM547 177h4v4h-4zM175 201h4v4h-4zM175 205h4v4h-4zM179 249h5v4h-5zM547 249h4v4h-4zM179 253h5v4h-5zM547 253h4v4h-4zM179 257h5v4h-5zM547 257h4v4h-4zM179 261h5v4h-5zM547 261h4v4h-4zM179 265h5v4h-5zM547 265h4v4h-4zM179 269h5v4h-5zM547 269h4v4h-4zM179 273h5v4h-5zM547 273h4v4h-4zM179 277h5v4h-5zM547 277h4v4h-4zM179 281h5v4h-5zM547 281h4v4h-4zM179 285h5v4h-5zM547 285h4v4h-4zM179 289h5v4h-5zM547 289h4v4h-4zM179 293h5v4h-5zM547 293h4v4h-4zM175 333h4v4h-4zM175 337h4v4h-4zM179 365h5v4h-5zM547 365h4v4h-4zM179 369h5v4h-5zM547 369h4v4h-4z"/><path fill="#ff7700" d="M542 173h5v4h-5zM179 213h5v4h-5zM179 217h5v4h-5zM179 221h5v4h-5zM179 225h5v4h-5zM179 317h5v4h-5zM547 317h4v4h-4zM179 321h5v4h-5zM179 325h5v4h-5zM542 369h5v4h-5z"/><path fill="#ff5e00" d="M179 181h5v4h-5zM547 181h4v4h-4zM547 185h4v4h-4zM551 217h5v4h-5zM551 221h5v4h-5zM551 325h5v4h-5zM551 329h5v4h-5zM547 357h4v4h-4zM179 361h5v4h-5zM547 361h4v4h-4z"/><path fill="#ff5500" d="M179 185h5v4h-5zM179 189h5v4h-5zM547 189h4v4h-4zM179 201h5v4h-5zM179 205h5v4h-5zM179 353h5v4h-5zM547 353h4v4h-4zM179 357h5v4h-5z"/><path fill="#00fff7" d="M165 193h5v4h-5zM165 345h5v4h-5zM170 389h5v4h-5zM556 389h5v4h-5zM175 409h4v4h-4zM179 417h5v4h-5z"/><path fill="#ff4c00" d="M179 193h5v4h-5zM547 193h4v4h-4zM179 197h5v4h-5zM547 197h4v4h-4zM179 209h5v4h-5zM547 217h4v4h-4zM547 325h4v4h-4zM179 329h5v4h-5zM547 329h4v4h-4zM179 333h5v4h-5zM179 337h5v4h-5zM179 341h5v4h-5zM179 345h5v4h-5zM547 345h4v4h-4zM179 349h5v4h-5zM547 349h4v4h-4z"/><path fill="#ff4400" d="M547 201h4v4h-4zM547 205h4v4h-4zM547 209h4v4h-4zM547 213h4v4h-4zM547 221h4v4h-4zM547 225h4v4h-4zM547 321h4v4h-4zM547 333h4v4h-4zM547 337h4v4h-4zM547 341h4v4h-4z"/><path fill="#ff3c00" d="M175 209h4v4h-4zM175 213h4v4h-4zM175 217h4v4h-4zM175 325h4v4h-4zM175 329h4v4h-4z"/><path fill="#ff3300" d="M175 221h4v4h-4zM175 225h4v4h-4zM551 225h5v4h-5zM175 229h4v4h-4zM551 229h5v4h-5zM175 313h4v4h-4zM551 313h5v4h-5zM175 317h4v4h-4zM551 317h5v4h-5zM175 321h4v4h-4zM551 321h5v4h-5z"/><path fill="#ff2a00" d="M175 233h4v4h-4zM551 233h5v4h-5zM175 237h4v4h-4zM551 237h5v4h-5zM175 241h4v4h-4zM551 241h5v4h-5zM175 245h4v4h-4zM551 245h5v4h-5zM175 297h4v4h-4zM551 297h5v4h-5zM175 301h4v4h-4zM551 301h5v4h-5zM175 305h4v4h-4zM551 305h5v4h-5zM175 309h4v4h-4zM551 309h5v4h-5z"/><path fill="#ff2200" d="M175 249h4v4h-4zM551 249h5v4h-5zM175 253h4v4h-4zM551 253h5v4h-5zM175 257h4v4h-4zM551 257h5v4h-5zM175 261h4v4h-4zM551 261h5v4h-5zM175 265h4v4h-4zM551 265h5v4h-5zM175 269h4v4h-4zM551 269h5v4h-5zM175 273h4v4h-4zM551 273h5v4h-5zM175 277h4v4h-4zM551 277h5v4h-5zM175 281h4v4h-4zM551 281h5v4h-5zM175 285h4v4h-4zM551 285h5v4h-5zM175 289h4v4h-4zM551 289h5v4h-5zM175 293h4v4h-4zM551 293h5v4h-5z"/><path fill="#00ffa2" d="M556 385h5v4h-5zM236 453h4v4h-4zM255 457h4v4h-4zM481 457h4v4h-4zM283 461h5v4h-5zM457 461h5v4h-5zM325 465h5v4h-5zM410 465h5v4h-5z"/><path fill="#00ff88" d="M551 405h5v4h-5zM184 425h5v4h-5zM189 429h4v4h-4zM193 433h5v4h-5z"/><path fill="#00ff08" d="M547 409h4v4h-4z"/><path fill="#00ffdd" d="M551 409h5v4h-5z"/><path fill="#0066ff" d="M551 413h5v4h-5z"/><path fill="#08ff00" d="M542 421h5v4h-5zM533 433h4v4h-4z"/><path fill="#00ff33" d="M542 425h5v4h-5z"/><path fill="#0080ff" d="M547 425h4v4h-4z"/><path fill="#00ff22" d="M528 437h5v4h-5z"/><path fill="#00ff99" d="M212 445h5v4h-5zM222 449h4v4h-4z"/><path fill="#1aff00" d="M514 445h4v4h-4zM504 449h5v4h-5z"/><path fill="#00ffe5" d="M518 445h5v4h-5z"/></g>
<path d="M66 22H670.5v1H66zM66 525H670.5v1H66z" fill="#333"/>
<path d="M65 22h2V526h-2zM669.5 22h2V526h-2z" fill="#6e6e6e"/>
<path d="M65.3 522.5h1.4v6h-1.4zM65.3 19.5h1.4v6h-1.4zM125.75 522.5h1.4v6h-1.4zM125.75 19.5h1.4v6h-1.4zM186.2 522.5h1.4v6h-1.4zM186.2 19.5h1.4v6h-1.4zM246.65 522.5h1.4v6h-1.4zM246.65 19.5h1.4v6h-1.4zM307.1 522.5h1.4v6h-1.4zM307.1 19.5h1.4v6h-1.4zM367.55 522.5h1.4v6h-1.4zM367.55 19.5h1.4v6h-1.4zM428 522.5h1.4v6h-1.4zM428 19.5h1.4v6h-1.4zM488.45 522.5h1.4v6h-1.4zM488.45 19.5h1.4v6h-1.4zM548.9 522.5h1.4v6h-1.4zM548.9 19.5h1.4v6h-1.4zM609.35 522.5h1.4v6h-1.4zM609.35 19.5h1.4v6h-1.4zM669.8 522.5h1.4v6h-1.4zM669.8 19.5h1.4v6h-1.4zM63 525h6v1h-6zM667.5 525h6v1h-6zM63 475h6v1h-6zM667.5 475h6v1h-6zM63 424h6v1h-6zM667.5 424h6v1h-6zM63 374h6v1h-6zM667.5 374h6v1h-6zM63 324h6v1h-6zM667.5 324h6v1h-6zM63 273h6v1h-6zM667.5 273h6v1h-6zM63 223h6v1h-6zM667.5 223h6v1h-6zM63 173h6v1h-6zM667.5 173h6v1h-6zM63 122h6v1h-6zM667.5 122h6v1h-6zM63 72h6v1h-6zM667.5 72h6v1h-6zM63 22h6v1h-6zM667.5 22h6v1h-6z" fill="#2a2a2a"/>
<text x="66" y="541.4" font-size="10.6" text-anchor="middle" fill="#111">-0.005</text>
<text x="126.45" y="541.4" font-size="10.6" text-anchor="middle" fill="#111">-0.004</text>
<text x="186.9" y="541.4" font-size="10.6" text-anchor="middle" fill="#111">-0.003</text>
<text x="247.35" y="541.4" font-size="10.6" text-anchor="middle" fill="#111">-0.002</text>
<text x="307.8" y="541.4" font-size="10.6" text-anchor="middle" fill="#111">-0.001</text>
<text x="368.25" y="541.4" font-size="10.6" text-anchor="middle" fill="#111">0.000</text>
<text x="428.7" y="541.4" font-size="10.6" text-anchor="middle" fill="#111">0.001</text>
<text x="489.15" y="541.4" font-size="10.6" text-anchor="middle" fill="#111">0.002</text>
<text x="549.6" y="541.4" font-size="10.6" text-anchor="middle" fill="#111">0.003</text>
<text x="610.05" y="541.4" font-size="10.6" text-anchor="middle" fill="#111">0.004</text>
<text x="670.5" y="541.4" font-size="10.6" text-anchor="middle" fill="#111">0.005</text>
<text x="59" y="529.6" font-size="10.6" text-anchor="end" fill="#111">-0.005</text>
<text x="59" y="479.3" font-size="10.6" text-anchor="end" fill="#111">-0.004</text>
<text x="59" y="429" font-size="10.6" text-anchor="end" fill="#111">-0.003</text>
<text x="59" y="378.7" font-size="10.6" text-anchor="end" fill="#111">-0.002</text>
<text x="59" y="328.4" font-size="10.6" text-anchor="end" fill="#111">-0.001</text>
<text x="59" y="278.1" font-size="10.6" text-anchor="end" fill="#111">0.000</text>
<text x="59" y="227.8" font-size="10.6" text-anchor="end" fill="#111">0.001</text>
<text x="59" y="177.5" font-size="10.6" text-anchor="end" fill="#111">0.002</text>
<text x="59" y="127.2" font-size="10.6" text-anchor="end" fill="#111">0.003</text>
<text x="59" y="76.9" font-size="10.6" text-anchor="end" fill="#111">0.004</text>
<text x="59" y="26.6" font-size="10.6" text-anchor="end" fill="#111">0.005</text>
<text x="347.5" y="12" font-size="13" text-anchor="middle" fill="#111">time=1.3e-08</text>
<text x="368.2" y="559.5" font-size="13" text-anchor="middle" fill="#111">x</text>
<text transform="translate(17.5,272.5) rotate(-90)" font-size="13" text-anchor="middle" fill="#111">y</text>
<text x="641.5" y="51.7" font-size="25" text-anchor="middle" fill="#000" font-weight="bold">a)</text>
<rect x="2" y="545" width="5" height="1.2" fill="#777"/><rect x="2" y="548" width="4" height="1.2" fill="#777"/><rect x="2" y="553" width="5" height="1.2" fill="#777"/><rect x="2" y="555.5" width="4" height="1.2" fill="#777"/><rect x="2" y="557.5" width="4" height="1.2" fill="#777"/><rect x="5" y="550.5" width="7" height="1.2" fill="#777"/><path d="M10.5 543.8l3 3l-3 3l-3 -3z" fill="#777"/><path d="M18 543.7l2.8 2.8l-2.8 2.8l-2.8 -2.8z" fill="#777"/><path d="M15.3 549.9l2.5 2.5l-2.5 2.5l-2.5 -2.5z" fill="#777"/><path d="M22 549l2.5 2.5l-2.5 2.5l-2.5 -2.5z" fill="#777"/><path d="M9.8 552.5l3 3l-3 3l-3 -3z" fill="#777"/><path d="M19.5 554.2l2.5 2.5l-2.5 2.5l-2.5 -2.5z" fill="#777"/>
<text x="26" y="557.8" font-size="6.6" text-anchor="start" fill="#999">GPT</text>
<path d="M153.5 1071.5V1070.5H160.5V1071.5M160.5 1071.5V864.5H166.5V1071.5M166.5 1071.5V673.5H172.5V1071.5M172.5 1071.5V681.5H178.5V1071.5M178.5 1071.5V689.5H184.5V1071.5M184.5 1071.5V677.5H190.5V1071.5M190.5 1071.5V681.5H197.5V1071.5M197.5 1071.5V677.5H203.5V1071.5M203.5 1071.5V678.5H209.5V1071.5M209.5 1071.5V675.5H215.5V1071.5M215.5 1071.5V678.5H221.5V1071.5M221.5 1071.5V670.5H227.5V1071.5M227.5 1071.5V668.5H233.5V1071.5M233.5 1071.5V668.5H240.5V1071.5M240.5 1071.5V660.5H246.5V1071.5M246.5 1071.5V661.5H252.5V1071.5M252.5 1071.5V661.5H258.5V1071.5M258.5 1071.5V657.5H264.5V1071.5M264.5 1071.5V658.5H270.5V1071.5M270.5 1071.5V647.5H277.5V1071.5M277.5 1071.5V656.5H283.5V1071.5M283.5 1071.5V651.5H289.5V1071.5M289.5 1071.5V644.5H295.5V1071.5M295.5 1071.5V652.5H301.5V1071.5M301.5 1071.5V640.5H307.5V1071.5M307.5 1071.5V644.5H314.5V1071.5M314.5 1071.5V644.5H320.5V1071.5M320.5 1071.5V642.5H326.5V1071.5M326.5 1071.5V646.5H332.5V1071.5M332.5 1071.5V637.5H338.5V1071.5M338.5 1071.5V638.5H344.5V1071.5M344.5 1071.5V640.5H350.5V1071.5M350.5 1071.5V646.5H357.5V1071.5M357.5 1071.5V636.5H363.5V1071.5M363.5 1071.5V644.5H369.5V1071.5M369.5 1071.5V640.5H375.5V1071.5M375.5 1071.5V637.5H381.5V1071.5M381.5 1071.5V641.5H387.5V1071.5M387.5 1071.5V644.5H394.5V1071.5M394.5 1071.5V636.5H400.5V1071.5M400.5 1071.5V647.5H406.5V1071.5M406.5 1071.5V644.5H412.5V1071.5M412.5 1071.5V640.5H418.5V1071.5M418.5 1071.5V649.5H424.5V1071.5M424.5 1071.5V649.5H430.5V1071.5M430.5 1071.5V645.5H437.5V1071.5M437.5 1071.5V650.5H443.5V1071.5M443.5 1071.5V653.5H449.5V1071.5M449.5 1071.5V653.5H455.5V1071.5M455.5 1071.5V652.5H461.5V1071.5M461.5 1071.5V656.5H467.5V1071.5M467.5 1071.5V661.5H474.5V1071.5M474.5 1071.5V660.5H480.5V1071.5M480.5 1071.5V666.5H486.5V1071.5M486.5 1071.5V663.5H492.5V1071.5M492.5 1071.5V670.5H498.5V1071.5M498.5 1071.5V674.5H504.5V1071.5M504.5 1071.5V674.5H510.5V1071.5M510.5 1071.5V670.5H517.5V1071.5M517.5 1071.5V681.5H523.5V1071.5M523.5 1071.5V676.5H529.5V1071.5M529.5 1071.5V681.5H535.5V1071.5M535.5 1071.5V686.5H541.5V1071.5M541.5 1071.5V679.5H547.5V1071.5M547.5 1071.5V683.5H554.5V1071.5M554.5 1071.5V675.5H560.5V1071.5M560.5 1071.5V864.5H566.5V1071.5M566.5 1071.5V1070.5H572.5V1071.5" fill="none" stroke="#181818" stroke-width="1" shape-rendering="crispEdges"/>
<path d="M54.9 599H670.5v1H54.9zM54.9 1071H670.5v1H54.9z" fill="#333"/>
<path d="M53.9 599h2V1072h-2zM669.5 599h2V1072h-2z" fill="#6e6e6e"/>
<path d="M54.2 1068.5h1.4v6h-1.4zM54.2 596.5h1.4v6h-1.4zM115.76 1068.5h1.4v6h-1.4zM115.76 596.5h1.4v6h-1.4zM177.32 1068.5h1.4v6h-1.4zM177.32 596.5h1.4v6h-1.4zM238.88 1068.5h1.4v6h-1.4zM238.88 596.5h1.4v6h-1.4zM300.44 1068.5h1.4v6h-1.4zM300.44 596.5h1.4v6h-1.4zM362 1068.5h1.4v6h-1.4zM362 596.5h1.4v6h-1.4zM423.56 1068.5h1.4v6h-1.4zM423.56 596.5h1.4v6h-1.4zM485.12 1068.5h1.4v6h-1.4zM485.12 596.5h1.4v6h-1.4zM546.68 1068.5h1.4v6h-1.4zM546.68 596.5h1.4v6h-1.4zM608.24 1068.5h1.4v6h-1.4zM608.24 596.5h1.4v6h-1.4zM669.8 1068.5h1.4v6h-1.4zM669.8 596.5h1.4v6h-1.4zM51.9 1071h6v1h-6zM667.5 1071h6v1h-6zM51.9 1031h6v1h-6zM667.5 1031h6v1h-6zM51.9 992h6v1h-6zM667.5 992h6v1h-6zM51.9 953h6v1h-6zM667.5 953h6v1h-6zM51.9 913h6v1h-6zM667.5 913h6v1h-6zM51.9 874h6v1h-6zM667.5 874h6v1h-6zM51.9 835h6v1h-6zM667.5 835h6v1h-6zM51.9 795h6v1h-6zM667.5 795h6v1h-6zM51.9 756h6v1h-6zM667.5 756h6v1h-6zM51.9 717h6v1h-6zM667.5 717h6v1h-6zM51.9 678h6v1h-6zM667.5 678h6v1h-6zM51.9 638h6v1h-6zM667.5 638h6v1h-6zM51.9 599h6v1h-6zM667.5 599h6v1h-6z" fill="#2a2a2a"/>
<text x="54.9" y="1087.2" font-size="10.6" text-anchor="middle" fill="#111">-0.005</text>
<text x="116.46" y="1087.2" font-size="10.6" text-anchor="middle" fill="#111">-0.004</text>
<text x="178.02" y="1087.2" font-size="10.6" text-anchor="middle" fill="#111">-0.003</text>
<text x="239.58" y="1087.2" font-size="10.6" text-anchor="middle" fill="#111">-0.002</text>
<text x="301.14" y="1087.2" font-size="10.6" text-anchor="middle" fill="#111">-0.001</text>
<text x="362.7" y="1087.2" font-size="10.6" text-anchor="middle" fill="#111">0.000</text>
<text x="424.26" y="1087.2" font-size="10.6" text-anchor="middle" fill="#111">0.001</text>
<text x="485.82" y="1087.2" font-size="10.6" text-anchor="middle" fill="#111">0.002</text>
<text x="547.38" y="1087.2" font-size="10.6" text-anchor="middle" fill="#111">0.003</text>
<text x="608.94" y="1087.2" font-size="10.6" text-anchor="middle" fill="#111">0.004</text>
<text x="670.5" y="1087.2" font-size="10.6" text-anchor="middle" fill="#111">0.005</text>
<text x="47.9" y="1075.4" font-size="10.6" text-anchor="end" fill="#111">0</text>
<text x="47.9" y="1036.08" font-size="10.6" text-anchor="end" fill="#111">200</text>
<text x="47.9" y="996.77" font-size="10.6" text-anchor="end" fill="#111">400</text>
<text x="47.9" y="957.45" font-size="10.6" text-anchor="end" fill="#111">600</text>
<text x="47.9" y="918.13" font-size="10.6" text-anchor="end" fill="#111">800</text>
<text x="47.9" y="878.82" font-size="10.6" text-anchor="end" fill="#111">1000</text>
<text x="47.9" y="839.5" font-size="10.6" text-anchor="end" fill="#111">1200</text>
<text x="47.9" y="800.18" font-size="10.6" text-anchor="end" fill="#111">1400</text>
<text x="47.9" y="760.87" font-size="10.6" text-anchor="end" fill="#111">1600</text>
<text x="47.9" y="721.55" font-size="10.6" text-anchor="end" fill="#111">1800</text>
<text x="47.9" y="682.23" font-size="10.6" text-anchor="end" fill="#111">2000</text>
<text x="47.9" y="642.92" font-size="10.6" text-anchor="end" fill="#111">2200</text>
<text x="47.9" y="603.6" font-size="10.6" text-anchor="end" fill="#111">2400</text>
<text x="347.5" y="589" font-size="13" text-anchor="middle" fill="#111">time=1.3e-08</text>
<text x="362.4" y="1105.8" font-size="12.5" text-anchor="middle" fill="#111">x_hisbar</text>
<text transform="translate(18.3,835) rotate(-90)" font-size="12.5" text-anchor="middle" fill="#111">x_cntbar</text>
<text x="646" y="634" font-size="25" text-anchor="middle" fill="#000" font-weight="bold">c)</text>
<rect x="2" y="1091" width="5" height="1.2" fill="#777"/><rect x="2" y="1094" width="4" height="1.2" fill="#777"/><rect x="2" y="1099" width="5" height="1.2" fill="#777"/><rect x="2" y="1101.5" width="4" height="1.2" fill="#777"/><rect x="2" y="1103.5" width="4" height="1.2" fill="#777"/><rect x="5" y="1096.5" width="7" height="1.2" fill="#777"/><path d="M10.5 1089.8l3 3l-3 3l-3 -3z" fill="#777"/><path d="M18 1089.7l2.8 2.8l-2.8 2.8l-2.8 -2.8z" fill="#777"/><path d="M15.3 1095.9l2.5 2.5l-2.5 2.5l-2.5 -2.5z" fill="#777"/><path d="M22 1095l2.5 2.5l-2.5 2.5l-2.5 -2.5z" fill="#777"/><path d="M9.8 1098.5l3 3l-3 3l-3 -3z" fill="#777"/><path d="M19.5 1100.2l2.5 2.5l-2.5 2.5l-2.5 -2.5z" fill="#777"/>
<text x="26" y="1103.8" font-size="6.6" text-anchor="start" fill="#999">GPT</text>
<path d="M835.5 1074.5V1061.5H842.5V1074.5M842.5 1074.5V909.5H848.5V1074.5M848.5 1074.5V811.5H854.5V1074.5M854.5 1074.5V786.5H860.5V1074.5M860.5 1074.5V766.5H866.5V1074.5M866.5 1074.5V752.5H872.5V1074.5M872.5 1074.5V748.5H879.5V1074.5M879.5 1074.5V739.5H885.5V1074.5M885.5 1074.5V737.5H891.5V1074.5M891.5 1074.5V736.5H897.5V1074.5M897.5 1074.5V725.5H903.5V1074.5M903.5 1074.5V722.5H910.5V1074.5M910.5 1074.5V723.5H916.5V1074.5M916.5 1074.5V717.5H922.5V1074.5M922.5 1074.5V716.5H928.5V1074.5M928.5 1074.5V719.5H934.5V1074.5M934.5 1074.5V711.5H940.5V1074.5M940.5 1074.5V712.5H947.5V1074.5M947.5 1074.5V704.5H953.5V1074.5M953.5 1074.5V709.5H959.5V1074.5M959.5 1074.5V694.5H965.5V1074.5M965.5 1074.5V703.5H971.5V1074.5M971.5 1074.5V702.5H977.5V1074.5M977.5 1074.5V698.5H984.5V1074.5M984.5 1074.5V695.5H990.5V1074.5M990.5 1074.5V690.5H996.5V1074.5M996.5 1074.5V698.5H1002.5V1074.5M1002.5 1074.5V691.5H1008.5V1074.5M1008.5 1074.5V686.5H1014.5V1074.5M1014.5 1074.5V691.5H1021.5V1074.5M1021.5 1074.5V690.5H1027.5V1074.5M1027.5 1074.5V682.5H1033.5V1074.5M1033.5 1074.5V687.5H1039.5V1074.5M1039.5 1074.5V693.5H1045.5V1074.5M1045.5 1074.5V682.5H1052.5V1074.5M1052.5 1074.5V683.5H1058.5V1074.5M1058.5 1074.5V685.5H1064.5V1074.5M1064.5 1074.5V682.5H1070.5V1074.5M1070.5 1074.5V684.5H1076.5V1074.5M1076.5 1074.5V685.5H1082.5V1074.5M1082.5 1074.5V687.5H1089.5V1074.5M1089.5 1074.5V681.5H1095.5V1074.5M1095.5 1074.5V684.5H1101.5V1074.5M1101.5 1074.5V682.5H1107.5V1074.5M1107.5 1074.5V698.5H1113.5V1074.5M1113.5 1074.5V683.5H1119.5V1074.5M1119.5 1074.5V679.5H1126.5V1074.5M1126.5 1074.5V692.5H1132.5V1074.5M1132.5 1074.5V692.5H1138.5V1074.5M1138.5 1074.5V692.5H1144.5V1074.5M1144.5 1074.5V682.5H1150.5V1074.5M1150.5 1074.5V693.5H1157.5V1074.5M1157.5 1074.5V699.5H1163.5V1074.5M1163.5 1074.5V696.5H1169.5V1074.5M1169.5 1074.5V696.5H1175.5V1074.5M1175.5 1074.5V698.5H1181.5V1074.5M1181.5 1074.5V701.5H1187.5V1074.5M1187.5 1074.5V708.5H1194.5V1074.5M1194.5 1074.5V699.5H1200.5V1074.5M1200.5 1074.5V709.5H1206.5V1074.5M1206.5 1074.5V707.5H1212.5V1074.5M1212.5 1074.5V714.5H1218.5V1074.5M1218.5 1074.5V714.5H1224.5V1074.5M1224.5 1074.5V716.5H1231.5V1074.5M1231.5 1074.5V724.5H1237.5V1074.5M1237.5 1074.5V723.5H1243.5V1074.5M1243.5 1074.5V723.5H1249.5V1074.5M1249.5 1074.5V727.5H1255.5V1074.5M1255.5 1074.5V732.5H1262.5V1074.5M1262.5 1074.5V733.5H1268.5V1074.5M1268.5 1074.5V741.5H1274.5V1074.5M1274.5 1074.5V751.5H1280.5V1074.5M1280.5 1074.5V751.5H1286.5V1074.5M1286.5 1074.5V764.5H1292.5V1074.5M1292.5 1074.5V783.5H1299.5V1074.5M1299.5 1074.5V812.5H1305.5V1074.5M1305.5 1074.5V908.5H1311.5V1074.5M1311.5 1074.5V1063.5H1317.5V1074.5" fill="none" stroke="#424242" stroke-width="1" shape-rendering="crispEdges"/>
<path d="M767.5 597H1385.1v1H767.5zM767.5 1074H1385.1v1H767.5z" fill="#4a4a4a"/>
<path d="M766.9 597h1.2V1075h-1.2zM1384.5 597h1.2V1075h-1.2z" fill="#4c4c4c"/>
<path d="M766.8 1071.5h1.4v6h-1.4zM766.8 594.5h1.4v6h-1.4zM828.56 1071.5h1.4v6h-1.4zM828.56 594.5h1.4v6h-1.4zM890.32 1071.5h1.4v6h-1.4zM890.32 594.5h1.4v6h-1.4zM952.08 1071.5h1.4v6h-1.4zM952.08 594.5h1.4v6h-1.4zM1013.84 1071.5h1.4v6h-1.4zM1013.84 594.5h1.4v6h-1.4zM1075.6 1071.5h1.4v6h-1.4zM1075.6 594.5h1.4v6h-1.4zM1137.36 1071.5h1.4v6h-1.4zM1137.36 594.5h1.4v6h-1.4zM1199.12 1071.5h1.4v6h-1.4zM1199.12 594.5h1.4v6h-1.4zM1260.88 1071.5h1.4v6h-1.4zM1260.88 594.5h1.4v6h-1.4zM1322.64 1071.5h1.4v6h-1.4zM1322.64 594.5h1.4v6h-1.4zM1384.4 1071.5h1.4v6h-1.4zM1384.4 594.5h1.4v6h-1.4zM764.5 1074h6v1h-6zM1382.1 1074h6v1h-6zM764.5 1034h6v1h-6zM1382.1 1034h6v1h-6zM764.5 994h6v1h-6zM1382.1 994h6v1h-6zM764.5 955h6v1h-6zM1382.1 955h6v1h-6zM764.5 915h6v1h-6zM1382.1 915h6v1h-6zM764.5 875h6v1h-6zM1382.1 875h6v1h-6zM764.5 835h6v1h-6zM1382.1 835h6v1h-6zM764.5 796h6v1h-6zM1382.1 796h6v1h-6zM764.5 756h6v1h-6zM1382.1 756h6v1h-6zM764.5 716h6v1h-6zM1382.1 716h6v1h-6zM764.5 676h6v1h-6zM1382.1 676h6v1h-6zM764.5 636h6v1h-6zM1382.1 636h6v1h-6zM764.5 597h6v1h-6zM1382.1 597h6v1h-6z" fill="#3a3a3a"/>
<text x="767.5" y="1090.4" font-size="10.6" text-anchor="middle" fill="#111">-0.005</text>
<text x="829.26" y="1090.4" font-size="10.6" text-anchor="middle" fill="#111">-0.004</text>
<text x="891.02" y="1090.4" font-size="10.6" text-anchor="middle" fill="#111">-0.003</text>
<text x="952.78" y="1090.4" font-size="10.6" text-anchor="middle" fill="#111">-0.002</text>
<text x="1014.54" y="1090.4" font-size="10.6" text-anchor="middle" fill="#111">-0.001</text>
<text x="1076.3" y="1090.4" font-size="10.6" text-anchor="middle" fill="#111">0.000</text>
<text x="1138.06" y="1090.4" font-size="10.6" text-anchor="middle" fill="#111">0.001</text>
<text x="1199.82" y="1090.4" font-size="10.6" text-anchor="middle" fill="#111">0.002</text>
<text x="1261.58" y="1090.4" font-size="10.6" text-anchor="middle" fill="#111">0.003</text>
<text x="1323.34" y="1090.4" font-size="10.6" text-anchor="middle" fill="#111">0.004</text>
<text x="1385.1" y="1090.4" font-size="10.6" text-anchor="middle" fill="#111">0.005</text>
<text x="760.5" y="1078.6" font-size="10.6" text-anchor="end" fill="#111">0</text>
<text x="760.5" y="1038.83" font-size="10.6" text-anchor="end" fill="#111">200</text>
<text x="760.5" y="999.07" font-size="10.6" text-anchor="end" fill="#111">400</text>
<text x="760.5" y="959.3" font-size="10.6" text-anchor="end" fill="#111">600</text>
<text x="760.5" y="919.53" font-size="10.6" text-anchor="end" fill="#111">800</text>
<text x="760.5" y="879.77" font-size="10.6" text-anchor="end" fill="#111">1000</text>
<text x="760.5" y="840" font-size="10.6" text-anchor="end" fill="#111">1200</text>
<text x="760.5" y="800.23" font-size="10.6" text-anchor="end" fill="#111">1400</text>
<text x="760.5" y="760.47" font-size="10.6" text-anchor="end" fill="#111">1600</text>
<text x="760.5" y="720.7" font-size="10.6" text-anchor="end" fill="#111">1800</text>
<text x="760.5" y="680.93" font-size="10.6" text-anchor="end" fill="#111">2000</text>
<text x="760.5" y="641.17" font-size="10.6" text-anchor="end" fill="#111">2200</text>
<text x="760.5" y="601.4" font-size="10.6" text-anchor="end" fill="#111">2400</text>
<text x="1061.5" y="587" font-size="13" text-anchor="middle" fill="#222">time=1.3e-08</text>
<text x="1075" y="1108" font-size="12" text-anchor="middle" fill="#222">y_hisbar</text>
<text transform="translate(731,835) rotate(-90)" font-size="12" text-anchor="middle" fill="#222">y_cntbar</text>
<text x="1354.5" y="632" font-size="24" text-anchor="middle" fill="#000" font-weight="bold">d)</text>
<rect x="717" y="1093" width="5" height="1.2" fill="#888"/><rect x="717" y="1096" width="4" height="1.2" fill="#888"/><rect x="717" y="1101" width="5" height="1.2" fill="#888"/><rect x="717" y="1103.5" width="4" height="1.2" fill="#888"/><rect x="717" y="1105.5" width="4" height="1.2" fill="#888"/><rect x="720" y="1098.5" width="7" height="1.2" fill="#888"/><path d="M725.5 1091.8l3 3l-3 3l-3 -3z" fill="#888"/><path d="M733 1091.7l2.8 2.8l-2.8 2.8l-2.8 -2.8z" fill="#888"/><path d="M730.3 1097.9l2.5 2.5l-2.5 2.5l-2.5 -2.5z" fill="#888"/><path d="M737 1097l2.5 2.5l-2.5 2.5l-2.5 -2.5z" fill="#888"/><path d="M724.8 1100.5l3 3l-3 3l-3 -3z" fill="#888"/><path d="M734.5 1102.2l2.5 2.5l-2.5 2.5l-2.5 -2.5z" fill="#888"/>
<text x="741" y="1105.8" font-size="6.6" text-anchor="start" fill="#999">GPT</text>
<defs><clipPath id="cb"><rect x="826" y="32" width="542.5" height="441"/></clipPath></defs>
<g clip-path="url(#cb)">
<path fill="#ff0000" d="M941.5 270L945 264L952 257.5L956 261.5L960 266.5L965 269L980 269.5L1000 269L1027.8 263.1L1065.6 253.7L1090.7 246.8L1113.4 240.5L1140 233L1200 226L1244 222L1246.6 224.9L1251 234.4L1252.9 239.4L1248.5 245.7L1237.1 245.7L1237.1 243.2L1234.6 238.2L1230.8 235.6L1224.5 233.1L1214.5 231.9L1195.6 233.1L1183 235.6L1157.8 240.7L1130 246.5L1100 255L1050 268L1000 276L960 281L945 281L941.5 276Z"/>
<path fill="#00ff00" d="M925.8 192.5L937.3 192.5L937.3 200.4L928.9 212L923.2 217.7L922.4 226.3L916 227.8L913.1 240.7L909.5 247.9L906.6 255.1L906.6 265.2L909.5 271.7L918.8 278.1L934.7 281L947 280.5L960 278.5L980 275.5L990 273.8L1000 272L1027.8 265.6L1065.6 255.6L1090.7 247.5L1113.4 241.7L1119.7 234.2L1129.4 231.9L1134.5 228.7L1149 229.3L1151.5 223.7L1158.4 221.8L1161.6 220.5L1169.1 219.9L1169.1 211.3L1177.9 211.3L1177.9 217.4L1182.3 216.1L1182.3 209.2L1187.4 209.2L1187.4 200.4L1196.2 200.4L1196.2 204.2L1200.6 204.2L1200.6 200.1L1210 200.1L1210 197.9L1218.2 197.9L1218.2 194.1L1213.8 194.1L1213.8 185.3L1222.6 185.3L1222.6 186.5L1231.8 186.5L1231.8 198.5L1234.6 198.5L1234.6 190.6L1238.4 186.5L1246 186.5L1246 172L1254.8 172L1254.8 180.9L1257.3 180.9L1257.3 187.8L1273 188L1273.4 181L1276.5 176L1285 176L1285 189L1303.6 190.5L1304.2 203L1311.8 218.2L1310.5 228.2L1309.3 239.6L1318.6 240L1309.1 241.8L1308.2 253.9L1304.6 257.1L1304.6 265.2L1299.2 266.1L1294.7 269.2L1292 277.8L1288 280.9L1288 286.8L1284 287.7L1279.9 292.2L1279.9 297.6L1274.5 298.5L1273.2 307L1268.7 307.4L1268.7 312.4L1263.7 312.8L1260.6 316.4L1260.6 321.4L1257 322.7L1257 326.8L1248 326.8L1248 317.3L1250.2 312.8L1254.3 307L1257.4 302L1261 296.7L1264.2 293.1L1267.3 288.6L1270.9 287.7L1271.8 281.4L1275.4 277.8L1276.8 271.5L1279.9 270.6L1281.7 263.4L1284 259.8L1284.9 250.8L1288.5 243.6L1287.6 240L1286.6 238.3L1281.6 230.8L1276.5 227L1265.2 224.5L1252.6 223.2L1242.2 224.3L1227 226.2L1208.2 230.6L1189.3 233.8L1170.4 238.2L1145.2 244.5L1130 249.3L1109.6 254.9L1097 259.3L1085.7 264.4L1073.1 268.8L1066.8 274.5L1051.7 275.7L1051.7 279.5L1039.1 279.5L1030.3 282.6L1024 287L1024 295.2L1009.5 296.5L1008.9 304L996 304L983 305.5L974 305L974 314L957 310L954 307L947 307L943 316L930 316L902 316L890 314L879 312L869.5 291L869.5 283L872.5 275L875 269L878.5 264L883.5 261L886.5 259L886.5 249.5L893.7 233.5L902.3 223.2L909.5 214.8L914.5 210.5L919.6 201.2Z"/>
<path fill="#00ff00" d="M854.7 281.3h9v9h-9zM854 294h9v9h-9zM865.3 292.9h9v9h-9zM869 297.2h9v9h-9zM858.6 307.1h9v9h-9zM854.7 311.2h9v9h-9zM870.2 307.1h9v9h-9zM862.1 319.3h9v9h-9zM854.3 324.2h9v9h-9zM833.5 316.1h9v9h-9zM834 321.5h9v9h-9zM831.9 334.1h9v9h-9zM843.5 335h9v9h-9zM848.9 337.9h9v9h-9zM864 333.9h9v9h-9zM877.7 317.2h9v9h-9zM883.6 317.2h9v9h-9zM888.2 328.2h9v9h-9zM881 339.3h9v9h-9zM884.5 342h9v9h-9zM897.7 319.3h9v9h-9zM903.6 317.2h9v9h-9zM828.6 350.4h9v9h-9zM835.1 357.6h9v9h-9zM825.5 369.8h9v9h-9zM917.6 324.7h9v9h-9zM958.8 315.3h9v9h-9zM946.8 315.7h9v9h-9zM928.4 323h9v9h-9zM917.3 324.7h9v9h-9zM924.1 330.3h9v9h-9zM888.1 328.1h9v9h-9zM880.9 338.8h9v9h-9zM884.3 342.3h9v9h-9zM888.1 336.3h9v9h-9zM897.6 319.1h9v9h-9zM880 317h9v9h-9zM886 317h9v9h-9zM933.1 314.9h9v9h-9zM964.4 307.1h9v9h-9zM982.8 298.6h9v9h-9zM1000 295h9v9h-9zM1309 145.1h9v9h-9zM1324.1 145.1h9v9h-9zM1318.3 149.5h9v9h-9zM1334.2 148.6h9v9h-9zM1340.8 153.3h9v9h-9zM1338.9 160.2h9v9h-9zM1331.9 167.2h9v9h-9zM1304.2 164h9v9h-9zM1318.1 163.4h9v9h-9zM1313 170.3h9v9h-9zM1305.2 177.6h9v9h-9zM1347.3 174.1h9v9h-9zM1323.8 179.7h9v9h-9zM1323.1 187.3h9v9h-9zM1311.8 187.3h9v9h-9zM1306.8 193h9v9h-9zM1320.6 196.8h9v9h-9zM1325 197.4h9v9h-9zM1340.8 188.2h9v9h-9zM1336 193h9v9h-9zM1325.4 207.1h9v9h-9zM1326.7 213.8h9v9h-9zM1313 216.3h9v9h-9zM1309.9 232.6h9v9h-9zM1245.7 171.6h9v9h-9zM1288.5 171.6h9v9h-9zM1276.5 176h9v9h-9zM1273.4 181h9v9h-9zM1307 199h9v9h-9zM1311 206h9v9h-9zM1306 209h9v9h-9zM1311 196h9v9h-9zM954.8 160.1h9v9h-9zM945 169.5h9v9h-9zM934.4 182.2h9v9h-9zM926 192.5h9v9h-9zM928 196h9v9h-9zM860 281h9v9h-9zM860 294h9v9h-9zM865.5 293h9v9h-9zM870 299h9v9h-9zM860 307h9v9h-9zM870 308h9v9h-9zM877 318h9v9h-9zM883 317h9v9h-9zM898 319h9v9h-9zM904 319h9v9h-9zM918 323h9v9h-9zM929 323h9v9h-9zM888.5 328h9v9h-9zM864 334h9v9h-9zM924 332h9v9h-9zM947 318h9v9h-9zM959 316h9v9h-9zM864 320h9v9h-9zM965 305h9v9h-9zM1366.6 145.1h9v9h-9z"/>
</g>
<rect x="825" y="31" width="544.5" height="443" fill="none" stroke="#000" stroke-width="2"/>
<path d="M825 474v-8M825 31v8M825 474h8M1369.5 474h-8M870.38 469.5v9M870.38 31v4.5M825 437.08h4.5M1369.5 437.08h-4.5M915.75 474v-8M915.75 31v8M825 400.17h8M1369.5 400.17h-8M961.12 469.5v9M961.12 31v4.5M825 363.25h4.5M1369.5 363.25h-4.5M1006.5 474v-8M1006.5 31v8M825 326.33h8M1369.5 326.33h-8M1051.88 469.5v9M1051.88 31v4.5M825 289.42h4.5M1369.5 289.42h-4.5M1097.25 474v-8M1097.25 31v8M825 252.5h8M1369.5 252.5h-8M1142.62 469.5v9M1142.62 31v4.5M825 215.58h4.5M1369.5 215.58h-4.5M1188 474v-8M1188 31v8M825 178.67h8M1369.5 178.67h-8M1233.38 469.5v9M1233.38 31v4.5M825 141.75h4.5M1369.5 141.75h-4.5M1278.75 474v-8M1278.75 31v8M825 104.83h8M1369.5 104.83h-8M1324.12 469.5v9M1324.12 31v4.5M825 67.92h4.5M1369.5 67.92h-4.5M1369.5 474v-8M1369.5 31v8M825 31h8M1369.5 31h-8" stroke="#000" stroke-width="2" fill="none"/>
<text x="825" y="500.5" font-size="22" text-anchor="middle" fill="#000">-0.006</text>
<text x="814.8" y="480.3" font-size="22" text-anchor="end" fill="#000">-0.006</text>
<text x="915.75" y="500.5" font-size="22" text-anchor="middle" fill="#000">-0.004</text>
<text x="814.8" y="406.47" font-size="22" text-anchor="end" fill="#000">-0.004</text>
<text x="1006.5" y="500.5" font-size="22" text-anchor="middle" fill="#000">-0.002</text>
<text x="814.8" y="332.63" font-size="22" text-anchor="end" fill="#000">-0.002</text>
<text x="1097.25" y="500.5" font-size="22" text-anchor="middle" fill="#000">0.000</text>
<text x="814.8" y="258.8" font-size="22" text-anchor="end" fill="#000">0.000</text>
<text x="1188" y="500.5" font-size="22" text-anchor="middle" fill="#000">0.002</text>
<text x="814.8" y="184.97" font-size="22" text-anchor="end" fill="#000">0.002</text>
<text x="1278.75" y="500.5" font-size="22" text-anchor="middle" fill="#000">0.004</text>
<text x="814.8" y="111.13" font-size="22" text-anchor="end" fill="#000">0.004</text>
<text x="1369.5" y="500.5" font-size="22" text-anchor="middle" fill="#000">0.006</text>
<text x="814.8" y="37.3" font-size="22" text-anchor="end" fill="#000">0.006</text>
<text x="1096.5" y="536" font-size="20" text-anchor="middle" fill="#000">X [m]</text>
<text transform="translate(736,267.7) rotate(-90)" font-size="23.6" text-anchor="middle">Bx [rad]</text>
<rect x="1042.5" y="42.1" width="314" height="55.4" fill="#fff" stroke="#222" stroke-width="1.2"/>
<path d="M1077.5 50.7L1083.9 61.8L1071.1 61.8Z" fill="#ff0000"/>
<rect x="1072.6" y="77.7" width="9.5" height="9.5" fill="#00ff00"/>
<text x="1105.5" y="65.2" font-size="20.4" text-anchor="start" fill="#000">with octupole and aperture</text>
<text x="1105.5" y="90.2" font-size="20.4" text-anchor="start" fill="#000">with octupole</text>
<text x="1346" y="121.6" font-size="25" text-anchor="middle" fill="#000" font-weight="bold">b)</text>
</svg></body></html>
